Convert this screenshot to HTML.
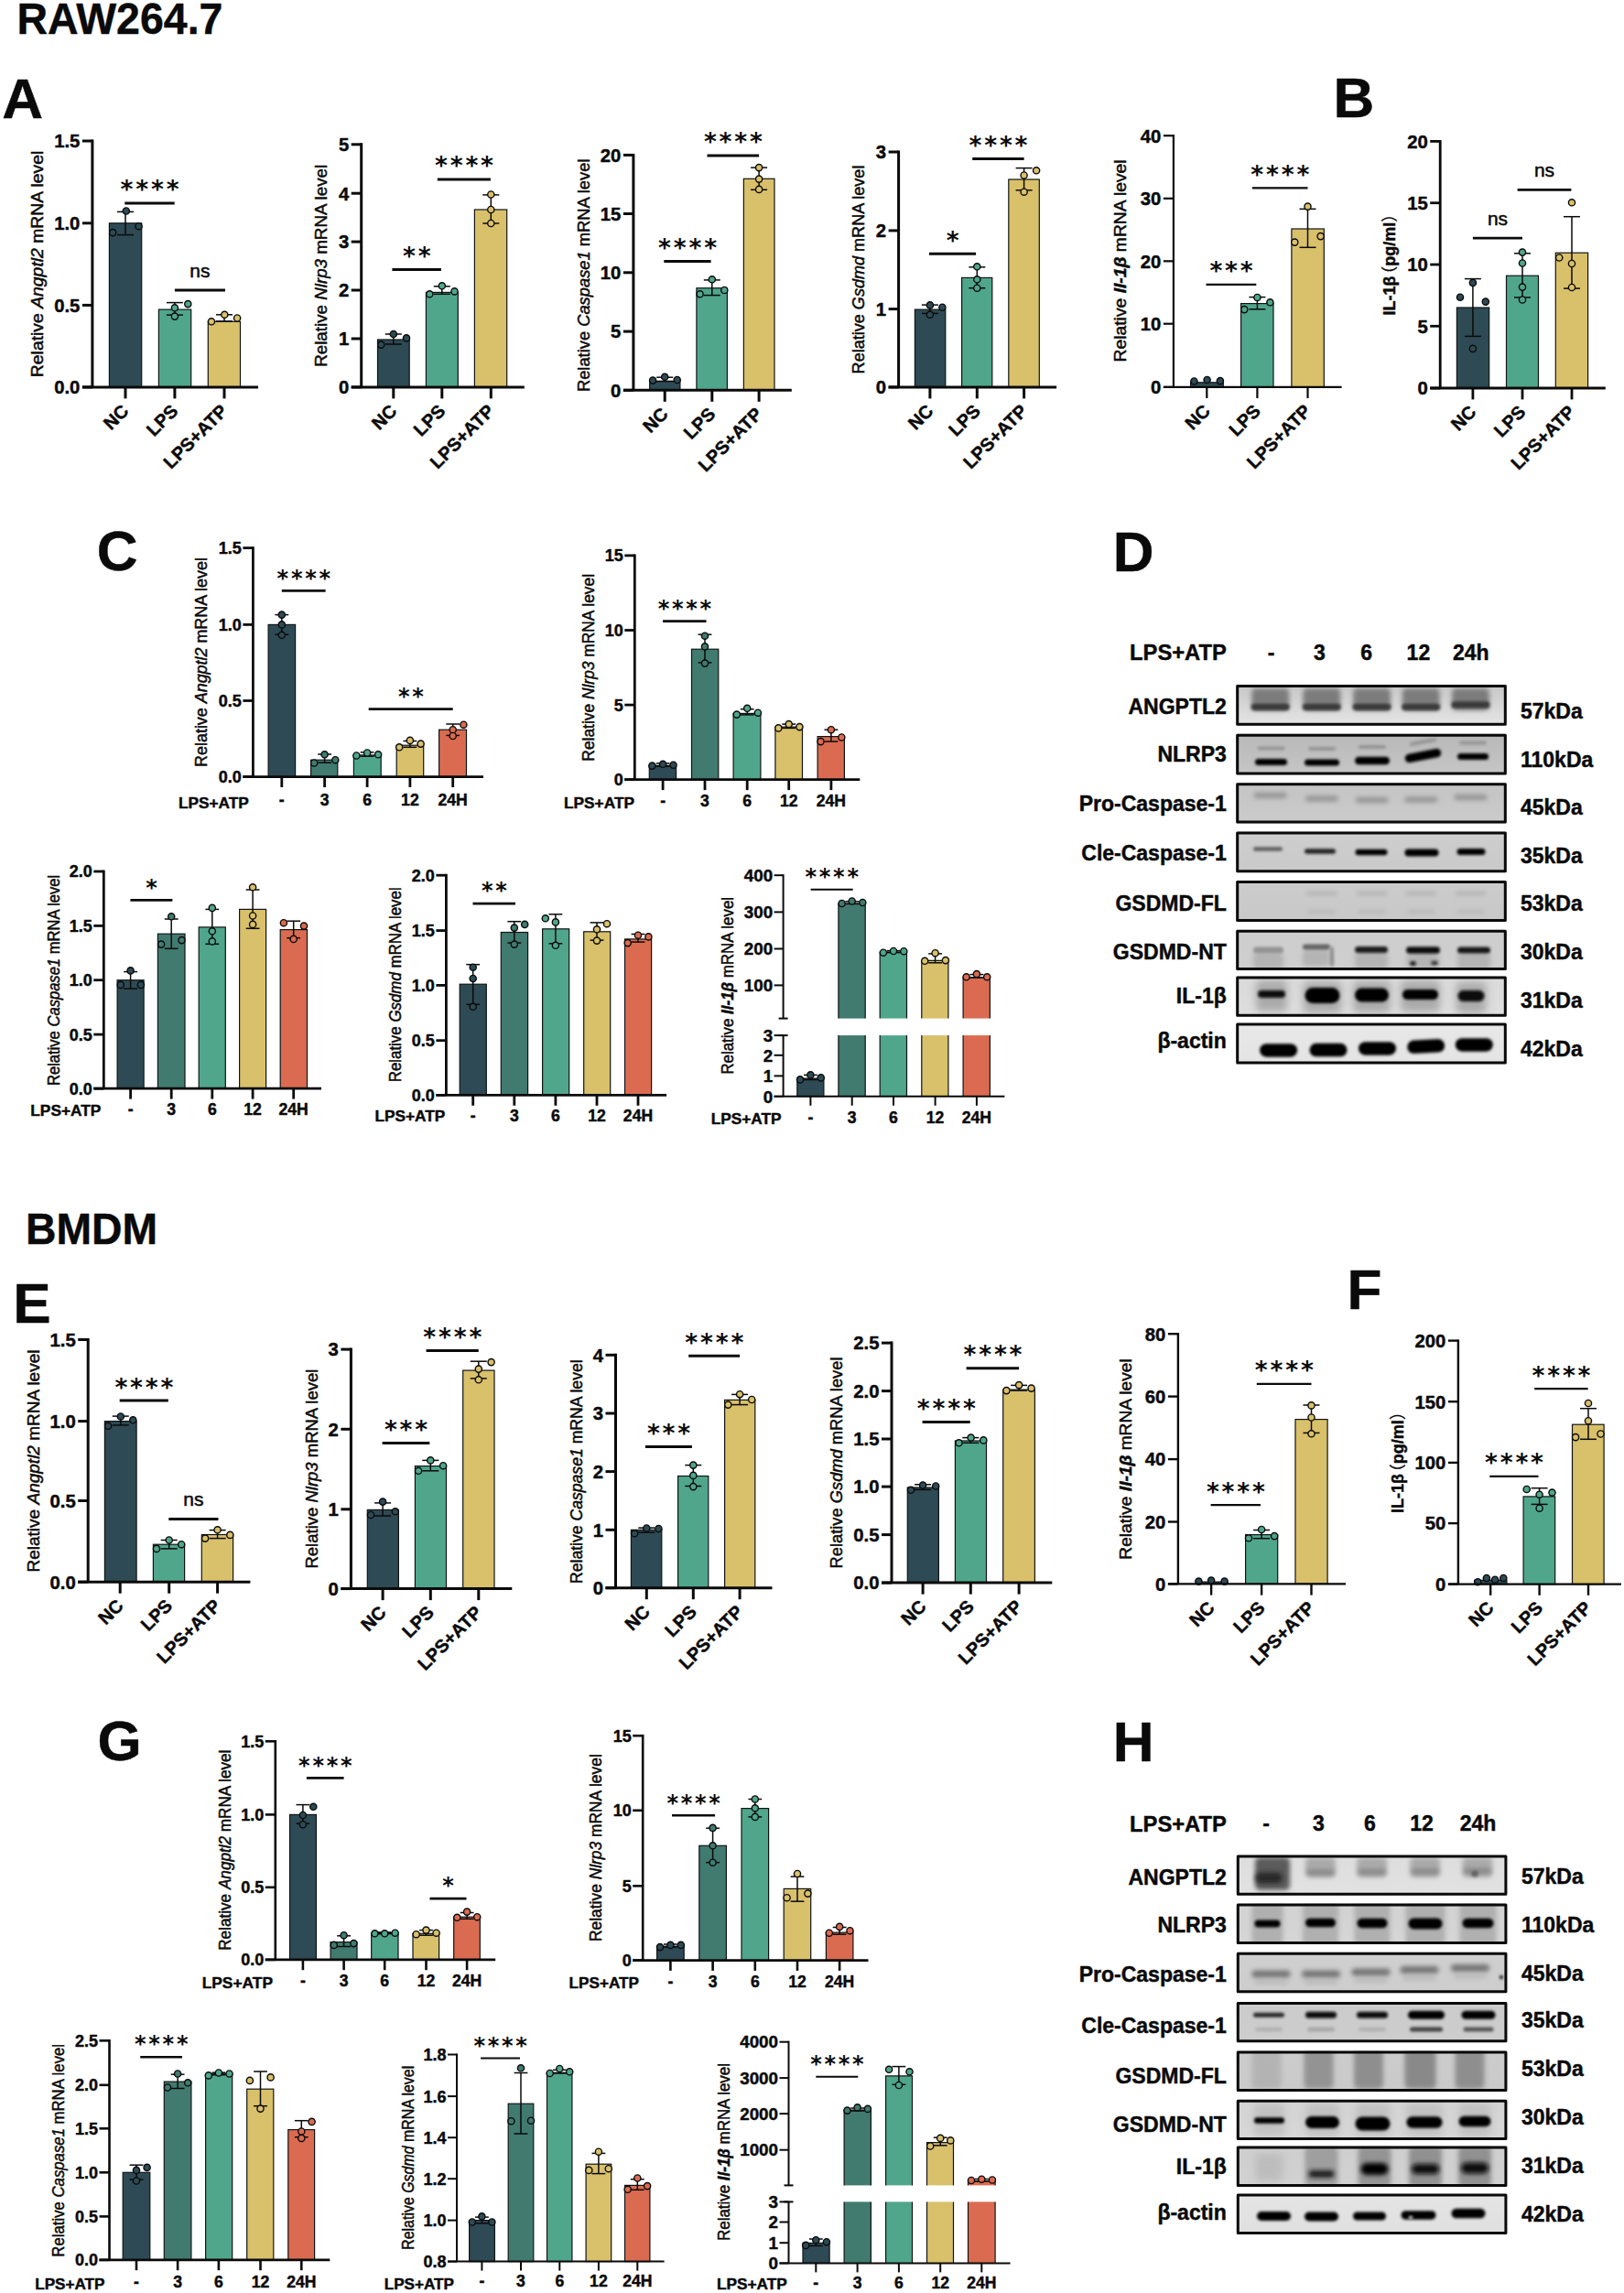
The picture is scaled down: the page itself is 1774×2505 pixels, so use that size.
<!DOCTYPE html>
<html><head><meta charset="utf-8"><title>Figure</title>
<style>
html,body{margin:0;padding:0;background:#fff}
svg{display:block}
text{font-family:"Liberation Sans","Noto Sans CJK SC",sans-serif;fill:#0a0a0a;stroke:#0a0a0a;stroke-width:0.45px;stroke-linejoin:round}
.yl{stroke:#0a0a0a;stroke-width:0.5px}
.st{font-family:"DejaVu Sans",sans-serif;font-weight:bold;stroke-width:0}
.cj{stroke-width:0.2px}
.cj{font-family:"Noto Sans CJK SC","Liberation Sans",sans-serif}
</style></head><body>
<svg width="1774" height="2505" viewBox="0 0 1774 2505">
<rect width="1774" height="2505" fill="#fff"/>
<text x="18.5" y="36.8" font-weight="bold" font-size="49" textLength="225" lengthAdjust="spacingAndGlyphs">RAW264.7</text>
<text x="28" y="1359" font-weight="bold" font-size="48" textLength="144" lengthAdjust="spacingAndGlyphs">BMDM</text>
<text x="2.2" y="128.8" font-weight="bold" font-size="62">A</text>
<text x="1456.5" y="127.9" font-weight="bold" font-size="62">B</text>
<text x="105.7" y="622.5" font-weight="bold" font-size="62">C</text>
<text x="1215.7" y="624" font-weight="bold" font-size="62">D</text>
<text x="14.3" y="1444.9" font-weight="bold" font-size="62">E</text>
<text x="1471.5" y="1429.7" font-weight="bold" font-size="62">F</text>
<text x="106.5" y="1923.3" font-weight="bold" font-size="62">G</text>
<text x="1215.7" y="1924" font-weight="bold" font-size="62">H</text>
<rect x="119.4" y="243.8" width="35.3" height="179.1" fill="#2e4a54" stroke="#101414" stroke-width="1.2"/>
<rect x="173.4" y="338.1" width="35.3" height="84.8" fill="#50a68b" stroke="#101414" stroke-width="1.2"/>
<rect x="227.3" y="351.3" width="35.2" height="71.6" fill="#d9c06a" stroke="#101414" stroke-width="1.2"/>
<line x1="137" y1="231.4" x2="137" y2="256.6" stroke="#0a0a0a" stroke-width="1.5"/>
<line x1="128" y1="231.4" x2="146" y2="231.4" stroke="#0a0a0a" stroke-width="1.5"/>
<line x1="128" y1="256.6" x2="146" y2="256.6" stroke="#0a0a0a" stroke-width="1.5"/>
<line x1="190.9" y1="330.6" x2="190.9" y2="344.1" stroke="#0a0a0a" stroke-width="1.5"/>
<line x1="181.9" y1="330.6" x2="199.9" y2="330.6" stroke="#0a0a0a" stroke-width="1.5"/>
<line x1="181.9" y1="344.1" x2="199.9" y2="344.1" stroke="#0a0a0a" stroke-width="1.5"/>
<line x1="245" y1="343.8" x2="245" y2="350.9" stroke="#0a0a0a" stroke-width="1.5"/>
<line x1="236" y1="343.8" x2="254" y2="343.8" stroke="#0a0a0a" stroke-width="1.5"/>
<line x1="236" y1="350.9" x2="254" y2="350.9" stroke="#0a0a0a" stroke-width="1.5"/>
<circle cx="137.8" cy="230.5" r="3.6" fill="#2e4a54" stroke="#0a0a0a" stroke-width="1.4"/>
<circle cx="151.5" cy="247.2" r="3.6" fill="#2e4a54" stroke="#0a0a0a" stroke-width="1.4"/>
<circle cx="123.2" cy="254.1" r="3.6" fill="#2e4a54" stroke="#0a0a0a" stroke-width="1.4"/>
<circle cx="205.3" cy="332.1" r="3.6" fill="#50a68b" stroke="#0a0a0a" stroke-width="1.4"/>
<circle cx="190.9" cy="336.3" r="3.6" fill="#50a68b" stroke="#0a0a0a" stroke-width="1.4"/>
<circle cx="190.9" cy="345.6" r="3.6" fill="#50a68b" stroke="#0a0a0a" stroke-width="1.4"/>
<circle cx="245.3" cy="343.8" r="3.6" fill="#d9c06a" stroke="#0a0a0a" stroke-width="1.4"/>
<circle cx="259.1" cy="347.5" r="3.6" fill="#d9c06a" stroke="#0a0a0a" stroke-width="1.4"/>
<circle cx="231" cy="351.3" r="3.6" fill="#d9c06a" stroke="#0a0a0a" stroke-width="1.4"/>
<line x1="100.9" y1="152.5" x2="100.9" y2="422.9" stroke="#0a0a0a" stroke-width="3"/>
<line x1="89.9" y1="422.9" x2="282" y2="422.9" stroke="#0a0a0a" stroke-width="3"/>
<line x1="89.9" y1="154" x2="100.9" y2="154" stroke="#0a0a0a" stroke-width="3"/>
<text x="87.4" y="161.3" text-anchor="end" font-weight="bold" font-size="20.3">1.5</text>
<line x1="89.9" y1="243.8" x2="100.9" y2="243.8" stroke="#0a0a0a" stroke-width="3"/>
<text x="87.4" y="251.1" text-anchor="end" font-weight="bold" font-size="20.3">1.0</text>
<line x1="89.9" y1="333.4" x2="100.9" y2="333.4" stroke="#0a0a0a" stroke-width="3"/>
<text x="87.4" y="340.7" text-anchor="end" font-weight="bold" font-size="20.3">0.5</text>
<line x1="89.9" y1="422.9" x2="100.9" y2="422.9" stroke="#0a0a0a" stroke-width="3"/>
<text x="87.4" y="430.2" text-anchor="end" font-weight="bold" font-size="20.3">0.0</text>
<line x1="137" y1="422.9" x2="137" y2="435.4" stroke="#0a0a0a" stroke-width="3"/>
<text transform="translate(141.8,450.2) rotate(-45)" text-anchor="end" font-weight="bold" font-size="20">NC</text>
<line x1="190.9" y1="422.9" x2="190.9" y2="435.4" stroke="#0a0a0a" stroke-width="3"/>
<text transform="translate(195.7,450.2) rotate(-45)" text-anchor="end" font-weight="bold" font-size="20">LPS</text>
<line x1="245" y1="422.9" x2="245" y2="435.4" stroke="#0a0a0a" stroke-width="3"/>
<text transform="translate(249.8,450.2) rotate(-45)" text-anchor="end" font-weight="bold" font-size="20">LPS+ATP</text>
<line x1="136.3" y1="222" x2="190.7" y2="222" stroke="#0a0a0a" stroke-width="3"/>
<text class="st" x="131.6 148.3 165 181.7" y="216.4" font-size="26.5">****</text>
<line x1="190.9" y1="317.1" x2="246" y2="317.1" stroke="#0a0a0a" stroke-width="3"/>
<text x="218.4" y="302.5" text-anchor="middle" class="yl" font-size="21">ns</text>
<text class="yl" transform="translate(46.9,288.4) rotate(-90)" text-anchor="middle" font-size="18.5" textLength="247.5" lengthAdjust="spacingAndGlyphs" xml:space="preserve">Relative <tspan font-style="italic">Angptl2</tspan> mRNA level</text>
<rect x="412.5" y="371" width="34.7" height="51.9" fill="#2e4a54" stroke="#101414" stroke-width="1.2"/>
<rect x="465.4" y="319.4" width="34.9" height="103.5" fill="#50a68b" stroke="#101414" stroke-width="1.2"/>
<rect x="518.4" y="229" width="35.3" height="193.9" fill="#d9c06a" stroke="#101414" stroke-width="1.2"/>
<line x1="429.8" y1="365" x2="429.8" y2="376" stroke="#0a0a0a" stroke-width="1.5"/>
<line x1="420.8" y1="365" x2="438.8" y2="365" stroke="#0a0a0a" stroke-width="1.5"/>
<line x1="420.8" y1="376" x2="438.8" y2="376" stroke="#0a0a0a" stroke-width="1.5"/>
<line x1="482.8" y1="312.8" x2="482.8" y2="321.3" stroke="#0a0a0a" stroke-width="1.5"/>
<line x1="473.8" y1="312.8" x2="491.8" y2="312.8" stroke="#0a0a0a" stroke-width="1.5"/>
<line x1="473.8" y1="321.3" x2="491.8" y2="321.3" stroke="#0a0a0a" stroke-width="1.5"/>
<line x1="536.3" y1="212.9" x2="536.3" y2="244" stroke="#0a0a0a" stroke-width="1.5"/>
<line x1="527.3" y1="212.9" x2="545.3" y2="212.9" stroke="#0a0a0a" stroke-width="1.5"/>
<line x1="527.3" y1="244" x2="545.3" y2="244" stroke="#0a0a0a" stroke-width="1.5"/>
<circle cx="429.8" cy="365" r="3.6" fill="#2e4a54" stroke="#0a0a0a" stroke-width="1.4"/>
<circle cx="444" cy="369.4" r="3.6" fill="#2e4a54" stroke="#0a0a0a" stroke-width="1.4"/>
<circle cx="416.3" cy="376.6" r="3.6" fill="#2e4a54" stroke="#0a0a0a" stroke-width="1.4"/>
<circle cx="482.8" cy="312.3" r="3.6" fill="#50a68b" stroke="#0a0a0a" stroke-width="1.4"/>
<circle cx="496.5" cy="318.4" r="3.6" fill="#50a68b" stroke="#0a0a0a" stroke-width="1.4"/>
<circle cx="469.3" cy="321.3" r="3.6" fill="#50a68b" stroke="#0a0a0a" stroke-width="1.4"/>
<circle cx="536.3" cy="212.5" r="3.6" fill="#d9c06a" stroke="#0a0a0a" stroke-width="1.4"/>
<circle cx="536.3" cy="229" r="3.6" fill="#d9c06a" stroke="#0a0a0a" stroke-width="1.4"/>
<circle cx="536.3" cy="244" r="3.6" fill="#d9c06a" stroke="#0a0a0a" stroke-width="1.4"/>
<line x1="394.7" y1="156.3" x2="394.7" y2="422.9" stroke="#0a0a0a" stroke-width="3"/>
<line x1="383.7" y1="422.9" x2="572.8" y2="422.9" stroke="#0a0a0a" stroke-width="3"/>
<line x1="383.7" y1="157.8" x2="394.7" y2="157.8" stroke="#0a0a0a" stroke-width="3"/>
<text x="381.2" y="165.1" text-anchor="end" font-weight="bold" font-size="20.3">5</text>
<line x1="383.7" y1="211.2" x2="394.7" y2="211.2" stroke="#0a0a0a" stroke-width="3"/>
<text x="381.2" y="218.5" text-anchor="end" font-weight="bold" font-size="20.3">4</text>
<line x1="383.7" y1="264.1" x2="394.7" y2="264.1" stroke="#0a0a0a" stroke-width="3"/>
<text x="381.2" y="271.4" text-anchor="end" font-weight="bold" font-size="20.3">3</text>
<line x1="383.7" y1="317" x2="394.7" y2="317" stroke="#0a0a0a" stroke-width="3"/>
<text x="381.2" y="324.3" text-anchor="end" font-weight="bold" font-size="20.3">2</text>
<line x1="383.7" y1="370" x2="394.7" y2="370" stroke="#0a0a0a" stroke-width="3"/>
<text x="381.2" y="377.3" text-anchor="end" font-weight="bold" font-size="20.3">1</text>
<line x1="383.7" y1="422.9" x2="394.7" y2="422.9" stroke="#0a0a0a" stroke-width="3"/>
<text x="381.2" y="430.2" text-anchor="end" font-weight="bold" font-size="20.3">0</text>
<line x1="429.8" y1="422.9" x2="429.8" y2="435.4" stroke="#0a0a0a" stroke-width="3"/>
<text transform="translate(434.6,450.2) rotate(-45)" text-anchor="end" font-weight="bold" font-size="20">NC</text>
<line x1="482.8" y1="422.9" x2="482.8" y2="435.4" stroke="#0a0a0a" stroke-width="3"/>
<text transform="translate(487.6,450.2) rotate(-45)" text-anchor="end" font-weight="bold" font-size="20">LPS</text>
<line x1="536.3" y1="422.9" x2="536.3" y2="435.4" stroke="#0a0a0a" stroke-width="3"/>
<text transform="translate(541.1,450.2) rotate(-45)" text-anchor="end" font-weight="bold" font-size="20">LPS+ATP</text>
<line x1="428.4" y1="294.6" x2="481.9" y2="294.6" stroke="#0a0a0a" stroke-width="3"/>
<text class="st" x="440 456.7" y="289" font-size="26.5">**</text>
<line x1="477.8" y1="196" x2="535.9" y2="196" stroke="#0a0a0a" stroke-width="3"/>
<text class="st" x="475 491.7 508.4 525.1" y="190.4" font-size="26.5">****</text>
<text class="yl" transform="translate(357.2,290.3) rotate(-90)" text-anchor="middle" font-size="18.5" textLength="221" lengthAdjust="spacingAndGlyphs" xml:space="preserve">Relative <tspan font-style="italic">Nlrp3</tspan> mRNA level</text>
<rect x="709.7" y="416.5" width="33.2" height="9.8" fill="#2e4a54" stroke="#101414" stroke-width="1.2"/>
<rect x="760.9" y="314.7" width="33.5" height="111.6" fill="#50a68b" stroke="#101414" stroke-width="1.2"/>
<rect x="812.4" y="195.3" width="33.6" height="231" fill="#d9c06a" stroke="#101414" stroke-width="1.2"/>
<line x1="726.2" y1="412.2" x2="726.2" y2="416.5" stroke="#0a0a0a" stroke-width="1.5"/>
<line x1="717.2" y1="412.2" x2="735.2" y2="412.2" stroke="#0a0a0a" stroke-width="1.5"/>
<line x1="717.2" y1="416.5" x2="735.2" y2="416.5" stroke="#0a0a0a" stroke-width="1.5"/>
<line x1="777.8" y1="305.9" x2="777.8" y2="322.6" stroke="#0a0a0a" stroke-width="1.5"/>
<line x1="768.8" y1="305.9" x2="786.8" y2="305.9" stroke="#0a0a0a" stroke-width="1.5"/>
<line x1="768.8" y1="322.6" x2="786.8" y2="322.6" stroke="#0a0a0a" stroke-width="1.5"/>
<line x1="829.1" y1="183.1" x2="829.1" y2="207.3" stroke="#0a0a0a" stroke-width="1.5"/>
<line x1="820.1" y1="183.1" x2="838.1" y2="183.1" stroke="#0a0a0a" stroke-width="1.5"/>
<line x1="820.1" y1="207.3" x2="838.1" y2="207.3" stroke="#0a0a0a" stroke-width="1.5"/>
<circle cx="713.1" cy="415.6" r="3.6" fill="#2e4a54" stroke="#0a0a0a" stroke-width="1.4"/>
<circle cx="726.2" cy="411.8" r="3.6" fill="#2e4a54" stroke="#0a0a0a" stroke-width="1.4"/>
<circle cx="739.7" cy="415" r="3.6" fill="#2e4a54" stroke="#0a0a0a" stroke-width="1.4"/>
<circle cx="777.8" cy="305.3" r="3.6" fill="#50a68b" stroke="#0a0a0a" stroke-width="1.4"/>
<circle cx="791.3" cy="317" r="3.6" fill="#50a68b" stroke="#0a0a0a" stroke-width="1.4"/>
<circle cx="764.6" cy="321.3" r="3.6" fill="#50a68b" stroke="#0a0a0a" stroke-width="1.4"/>
<circle cx="829.1" cy="183.1" r="3.6" fill="#d9c06a" stroke="#0a0a0a" stroke-width="1.4"/>
<circle cx="829.1" cy="195.6" r="3.6" fill="#d9c06a" stroke="#0a0a0a" stroke-width="1.4"/>
<circle cx="829.1" cy="206.9" r="3.6" fill="#d9c06a" stroke="#0a0a0a" stroke-width="1.4"/>
<line x1="691.9" y1="167.9" x2="691.9" y2="426.3" stroke="#0a0a0a" stroke-width="3"/>
<line x1="680.9" y1="426.3" x2="864.8" y2="426.3" stroke="#0a0a0a" stroke-width="3"/>
<line x1="680.9" y1="169.4" x2="691.9" y2="169.4" stroke="#0a0a0a" stroke-width="3"/>
<text x="678.4" y="176.7" text-anchor="end" font-weight="bold" font-size="20.3">20</text>
<line x1="680.9" y1="233.5" x2="691.9" y2="233.5" stroke="#0a0a0a" stroke-width="3"/>
<text x="678.4" y="240.8" text-anchor="end" font-weight="bold" font-size="20.3">15</text>
<line x1="680.9" y1="297.8" x2="691.9" y2="297.8" stroke="#0a0a0a" stroke-width="3"/>
<text x="678.4" y="305.1" text-anchor="end" font-weight="bold" font-size="20.3">10</text>
<line x1="680.9" y1="362.1" x2="691.9" y2="362.1" stroke="#0a0a0a" stroke-width="3"/>
<text x="678.4" y="369.4" text-anchor="end" font-weight="bold" font-size="20.3">5</text>
<line x1="680.9" y1="426.3" x2="691.9" y2="426.3" stroke="#0a0a0a" stroke-width="3"/>
<text x="678.4" y="433.6" text-anchor="end" font-weight="bold" font-size="20.3">0</text>
<line x1="726.2" y1="426.3" x2="726.2" y2="438.8" stroke="#0a0a0a" stroke-width="3"/>
<text transform="translate(731,453.6) rotate(-45)" text-anchor="end" font-weight="bold" font-size="20">NC</text>
<line x1="777.8" y1="426.3" x2="777.8" y2="438.8" stroke="#0a0a0a" stroke-width="3"/>
<text transform="translate(782.6,453.6) rotate(-45)" text-anchor="end" font-weight="bold" font-size="20">LPS</text>
<line x1="829.1" y1="426.3" x2="829.1" y2="438.8" stroke="#0a0a0a" stroke-width="3"/>
<text transform="translate(833.9,453.6) rotate(-45)" text-anchor="end" font-weight="bold" font-size="20">LPS+ATP</text>
<line x1="725.3" y1="285.6" x2="776.6" y2="285.6" stroke="#0a0a0a" stroke-width="3"/>
<text class="st" x="719.1 735.8 752.5 769.2" y="280" font-size="26.5">****</text>
<line x1="772.5" y1="169.9" x2="829.1" y2="169.9" stroke="#0a0a0a" stroke-width="3"/>
<text class="st" x="768.9 785.6 802.3 819" y="164.3" font-size="26.5">****</text>
<text class="yl" transform="translate(644.4,300.8) rotate(-90)" text-anchor="middle" font-size="18.5" textLength="254.6" lengthAdjust="spacingAndGlyphs" xml:space="preserve">Relative <tspan font-style="italic">Caspase1</tspan> mRNA level</text>
<rect x="999.4" y="338.1" width="33.4" height="84.8" fill="#2e4a54" stroke="#101414" stroke-width="1.2"/>
<rect x="1050.6" y="303.4" width="33.2" height="119.5" fill="#50a68b" stroke="#101414" stroke-width="1.2"/>
<rect x="1101.8" y="196" width="33.5" height="226.9" fill="#d9c06a" stroke="#101414" stroke-width="1.2"/>
<line x1="1015.9" y1="333.1" x2="1015.9" y2="342.4" stroke="#0a0a0a" stroke-width="1.5"/>
<line x1="1006.9" y1="333.1" x2="1024.9" y2="333.1" stroke="#0a0a0a" stroke-width="1.5"/>
<line x1="1006.9" y1="342.4" x2="1024.9" y2="342.4" stroke="#0a0a0a" stroke-width="1.5"/>
<line x1="1067.3" y1="291.8" x2="1067.3" y2="314.7" stroke="#0a0a0a" stroke-width="1.5"/>
<line x1="1058.3" y1="291.8" x2="1076.3" y2="291.8" stroke="#0a0a0a" stroke-width="1.5"/>
<line x1="1058.3" y1="314.7" x2="1076.3" y2="314.7" stroke="#0a0a0a" stroke-width="1.5"/>
<line x1="1118.6" y1="183.6" x2="1118.6" y2="207.8" stroke="#0a0a0a" stroke-width="1.5"/>
<line x1="1109.6" y1="183.6" x2="1127.6" y2="183.6" stroke="#0a0a0a" stroke-width="1.5"/>
<line x1="1109.6" y1="207.8" x2="1127.6" y2="207.8" stroke="#0a0a0a" stroke-width="1.5"/>
<circle cx="1015.9" cy="333.4" r="3.6" fill="#2e4a54" stroke="#0a0a0a" stroke-width="1.4"/>
<circle cx="1029.4" cy="335.7" r="3.6" fill="#2e4a54" stroke="#0a0a0a" stroke-width="1.4"/>
<circle cx="1015.9" cy="343.8" r="3.6" fill="#2e4a54" stroke="#0a0a0a" stroke-width="1.4"/>
<circle cx="1067.3" cy="291.3" r="3.6" fill="#50a68b" stroke="#0a0a0a" stroke-width="1.4"/>
<circle cx="1067.3" cy="305.3" r="3.6" fill="#50a68b" stroke="#0a0a0a" stroke-width="1.4"/>
<circle cx="1067.3" cy="314.7" r="3.6" fill="#50a68b" stroke="#0a0a0a" stroke-width="1.4"/>
<circle cx="1132.1" cy="186.3" r="3.6" fill="#d9c06a" stroke="#0a0a0a" stroke-width="1.4"/>
<circle cx="1118.6" cy="191.5" r="3.6" fill="#d9c06a" stroke="#0a0a0a" stroke-width="1.4"/>
<circle cx="1118.6" cy="209.7" r="3.6" fill="#d9c06a" stroke="#0a0a0a" stroke-width="1.4"/>
<line x1="981.6" y1="164.5" x2="981.6" y2="422.9" stroke="#0a0a0a" stroke-width="3"/>
<line x1="970.6" y1="422.9" x2="1154.1" y2="422.9" stroke="#0a0a0a" stroke-width="3"/>
<line x1="970.6" y1="166" x2="981.6" y2="166" stroke="#0a0a0a" stroke-width="3"/>
<text x="968.1" y="173.3" text-anchor="end" font-weight="bold" font-size="20.3">3</text>
<line x1="970.6" y1="251.9" x2="981.6" y2="251.9" stroke="#0a0a0a" stroke-width="3"/>
<text x="968.1" y="259.2" text-anchor="end" font-weight="bold" font-size="20.3">2</text>
<line x1="970.6" y1="337.6" x2="981.6" y2="337.6" stroke="#0a0a0a" stroke-width="3"/>
<text x="968.1" y="344.9" text-anchor="end" font-weight="bold" font-size="20.3">1</text>
<line x1="970.6" y1="422.9" x2="981.6" y2="422.9" stroke="#0a0a0a" stroke-width="3"/>
<text x="968.1" y="430.2" text-anchor="end" font-weight="bold" font-size="20.3">0</text>
<line x1="1015.9" y1="422.9" x2="1015.9" y2="435.4" stroke="#0a0a0a" stroke-width="3"/>
<text transform="translate(1020.7,450.2) rotate(-45)" text-anchor="end" font-weight="bold" font-size="20">NC</text>
<line x1="1067.3" y1="422.9" x2="1067.3" y2="435.4" stroke="#0a0a0a" stroke-width="3"/>
<text transform="translate(1072.1,450.2) rotate(-45)" text-anchor="end" font-weight="bold" font-size="20">LPS</text>
<line x1="1118.6" y1="422.9" x2="1118.6" y2="435.4" stroke="#0a0a0a" stroke-width="3"/>
<text transform="translate(1123.4,450.2) rotate(-45)" text-anchor="end" font-weight="bold" font-size="20">LPS+ATP</text>
<line x1="1014.9" y1="277.2" x2="1066.1" y2="277.2" stroke="#0a0a0a" stroke-width="3"/>
<text class="st" x="1033.7" y="271.6" font-size="26.5">*</text>
<line x1="1062.2" y1="173.5" x2="1118.6" y2="173.5" stroke="#0a0a0a" stroke-width="3"/>
<text class="st" x="1058.5 1075.2 1091.9 1108.6" y="167.9" font-size="26.5">****</text>
<text class="yl" transform="translate(944.4,294.5) rotate(-90)" text-anchor="middle" font-size="18.5" textLength="227.8" lengthAdjust="spacingAndGlyphs" xml:space="preserve">Relative <tspan font-style="italic">Gsdmd</tspan> mRNA level</text>
<rect x="1300.6" y="417.8" width="35.7" height="5.1" fill="#2e4a54" stroke="#101414" stroke-width="1.2"/>
<rect x="1355.6" y="331.6" width="35.4" height="91.3" fill="#50a68b" stroke="#101414" stroke-width="1.2"/>
<rect x="1410.9" y="250" width="35.4" height="172.9" fill="#d9c06a" stroke="#101414" stroke-width="1.2"/>
<line x1="1373.4" y1="324.6" x2="1373.4" y2="337.8" stroke="#0a0a0a" stroke-width="1.5"/>
<line x1="1364.4" y1="324.6" x2="1382.4" y2="324.6" stroke="#0a0a0a" stroke-width="1.5"/>
<line x1="1364.4" y1="337.8" x2="1382.4" y2="337.8" stroke="#0a0a0a" stroke-width="1.5"/>
<line x1="1428.5" y1="228.3" x2="1428.5" y2="270.3" stroke="#0a0a0a" stroke-width="1.5"/>
<line x1="1419.5" y1="228.3" x2="1437.5" y2="228.3" stroke="#0a0a0a" stroke-width="1.5"/>
<line x1="1419.5" y1="270.3" x2="1437.5" y2="270.3" stroke="#0a0a0a" stroke-width="1.5"/>
<circle cx="1304.4" cy="416.5" r="3.6" fill="#2e4a54" stroke="#0a0a0a" stroke-width="1.4"/>
<circle cx="1318.6" cy="415" r="3.6" fill="#2e4a54" stroke="#0a0a0a" stroke-width="1.4"/>
<circle cx="1332.9" cy="416.1" r="3.6" fill="#2e4a54" stroke="#0a0a0a" stroke-width="1.4"/>
<circle cx="1373.4" cy="325" r="3.6" fill="#50a68b" stroke="#0a0a0a" stroke-width="1.4"/>
<circle cx="1387.4" cy="330.3" r="3.6" fill="#50a68b" stroke="#0a0a0a" stroke-width="1.4"/>
<circle cx="1359.3" cy="338.1" r="3.6" fill="#50a68b" stroke="#0a0a0a" stroke-width="1.4"/>
<circle cx="1428.5" cy="225.6" r="3.6" fill="#d9c06a" stroke="#0a0a0a" stroke-width="1.4"/>
<circle cx="1442.6" cy="258.1" r="3.6" fill="#d9c06a" stroke="#0a0a0a" stroke-width="1.4"/>
<circle cx="1414.3" cy="264.6" r="3.6" fill="#d9c06a" stroke="#0a0a0a" stroke-width="1.4"/>
<line x1="1281.9" y1="147.1" x2="1281.9" y2="422.9" stroke="#0a0a0a" stroke-width="2.2"/>
<line x1="1270.9" y1="422.9" x2="1465.6" y2="422.9" stroke="#0a0a0a" stroke-width="2.2"/>
<line x1="1270.9" y1="148.2" x2="1281.9" y2="148.2" stroke="#0a0a0a" stroke-width="2.2"/>
<text x="1268.4" y="155.5" text-anchor="end" font-weight="bold" font-size="20.3">40</text>
<line x1="1270.9" y1="216.8" x2="1281.9" y2="216.8" stroke="#0a0a0a" stroke-width="2.2"/>
<text x="1268.4" y="224.1" text-anchor="end" font-weight="bold" font-size="20.3">30</text>
<line x1="1270.9" y1="285.3" x2="1281.9" y2="285.3" stroke="#0a0a0a" stroke-width="2.2"/>
<text x="1268.4" y="292.6" text-anchor="end" font-weight="bold" font-size="20.3">20</text>
<line x1="1270.9" y1="353.7" x2="1281.9" y2="353.7" stroke="#0a0a0a" stroke-width="2.2"/>
<text x="1268.4" y="361" text-anchor="end" font-weight="bold" font-size="20.3">10</text>
<line x1="1270.9" y1="422.9" x2="1281.9" y2="422.9" stroke="#0a0a0a" stroke-width="2.2"/>
<text x="1268.4" y="430.2" text-anchor="end" font-weight="bold" font-size="20.3">0</text>
<line x1="1318.3" y1="422.9" x2="1318.3" y2="435" stroke="#0a0a0a" stroke-width="2.2"/>
<text transform="translate(1323.1,450.2) rotate(-45)" text-anchor="end" font-weight="bold" font-size="20">NC</text>
<line x1="1373.4" y1="422.9" x2="1373.4" y2="435" stroke="#0a0a0a" stroke-width="2.2"/>
<text transform="translate(1378.2,450.2) rotate(-45)" text-anchor="end" font-weight="bold" font-size="20">LPS</text>
<line x1="1428.5" y1="422.9" x2="1428.5" y2="435" stroke="#0a0a0a" stroke-width="2.2"/>
<text transform="translate(1433.3,450.2) rotate(-45)" text-anchor="end" font-weight="bold" font-size="20">LPS+ATP</text>
<line x1="1317.5" y1="310.9" x2="1372.3" y2="310.9" stroke="#0a0a0a" stroke-width="2.2"/>
<text class="st" x="1321.4 1338.1 1354.8" y="305.3" font-size="26.5">***</text>
<line x1="1367.8" y1="205.4" x2="1428.5" y2="205.4" stroke="#0a0a0a" stroke-width="2.2"/>
<text class="st" x="1366.3 1383 1399.7 1416.4" y="199.8" font-size="26.5">****</text>
<text class="yl" transform="translate(1230.3,284.9) rotate(-90)" text-anchor="middle" font-size="18.5" textLength="221" lengthAdjust="spacingAndGlyphs" xml:space="preserve">Relative <tspan font-style="italic" font-weight="bold">Il-1β</tspan> mRNA level</text>
<rect x="1591.4" y="336" width="35.3" height="88" fill="#2e4a54" stroke="#101414" stroke-width="1.2"/>
<rect x="1645.5" y="301.2" width="35" height="122.8" fill="#50a68b" stroke="#101414" stroke-width="1.2"/>
<rect x="1699.3" y="276.2" width="35.3" height="147.8" fill="#d9c06a" stroke="#101414" stroke-width="1.2"/>
<line x1="1608.9" y1="304.6" x2="1608.9" y2="367.4" stroke="#0a0a0a" stroke-width="1.5"/>
<line x1="1599.9" y1="304.6" x2="1617.9" y2="304.6" stroke="#0a0a0a" stroke-width="1.5"/>
<line x1="1599.9" y1="367.4" x2="1617.9" y2="367.4" stroke="#0a0a0a" stroke-width="1.5"/>
<line x1="1663" y1="276.8" x2="1663" y2="324.9" stroke="#0a0a0a" stroke-width="1.5"/>
<line x1="1654" y1="276.8" x2="1672" y2="276.8" stroke="#0a0a0a" stroke-width="1.5"/>
<line x1="1654" y1="324.9" x2="1672" y2="324.9" stroke="#0a0a0a" stroke-width="1.5"/>
<line x1="1717" y1="236.7" x2="1717" y2="315.1" stroke="#0a0a0a" stroke-width="1.5"/>
<line x1="1708" y1="236.7" x2="1726" y2="236.7" stroke="#0a0a0a" stroke-width="1.5"/>
<line x1="1708" y1="315.1" x2="1726" y2="315.1" stroke="#0a0a0a" stroke-width="1.5"/>
<circle cx="1608.9" cy="308.9" r="3.6" fill="#2e4a54" stroke="#0a0a0a" stroke-width="1.4"/>
<circle cx="1595" cy="324.7" r="3.6" fill="#2e4a54" stroke="#0a0a0a" stroke-width="1.4"/>
<circle cx="1622.8" cy="329.6" r="3.6" fill="#2e4a54" stroke="#0a0a0a" stroke-width="1.4"/>
<circle cx="1608.9" cy="380.9" r="3.6" fill="#2e4a54" stroke="#0a0a0a" stroke-width="1.4"/>
<circle cx="1663" cy="275.6" r="3.6" fill="#50a68b" stroke="#0a0a0a" stroke-width="1.4"/>
<circle cx="1663" cy="287.5" r="3.6" fill="#50a68b" stroke="#0a0a0a" stroke-width="1.4"/>
<circle cx="1663" cy="313.6" r="3.6" fill="#50a68b" stroke="#0a0a0a" stroke-width="1.4"/>
<circle cx="1663" cy="327.5" r="3.6" fill="#50a68b" stroke="#0a0a0a" stroke-width="1.4"/>
<circle cx="1717" cy="221.3" r="3.6" fill="#d9c06a" stroke="#0a0a0a" stroke-width="1.4"/>
<circle cx="1703.2" cy="281.5" r="3.6" fill="#d9c06a" stroke="#0a0a0a" stroke-width="1.4"/>
<circle cx="1717" cy="288" r="3.6" fill="#d9c06a" stroke="#0a0a0a" stroke-width="1.4"/>
<circle cx="1717" cy="314" r="3.6" fill="#d9c06a" stroke="#0a0a0a" stroke-width="1.4"/>
<line x1="1573.2" y1="153" x2="1573.2" y2="424" stroke="#0a0a0a" stroke-width="2.8"/>
<line x1="1562.2" y1="424" x2="1753.8" y2="424" stroke="#0a0a0a" stroke-width="2.8"/>
<line x1="1562.2" y1="154.4" x2="1573.2" y2="154.4" stroke="#0a0a0a" stroke-width="2.8"/>
<text x="1559.7" y="161.7" text-anchor="end" font-weight="bold" font-size="20.3">20</text>
<line x1="1562.2" y1="221.7" x2="1573.2" y2="221.7" stroke="#0a0a0a" stroke-width="2.8"/>
<text x="1559.7" y="229" text-anchor="end" font-weight="bold" font-size="20.3">15</text>
<line x1="1562.2" y1="289" x2="1573.2" y2="289" stroke="#0a0a0a" stroke-width="2.8"/>
<text x="1559.7" y="296.3" text-anchor="end" font-weight="bold" font-size="20.3">10</text>
<line x1="1562.2" y1="356.3" x2="1573.2" y2="356.3" stroke="#0a0a0a" stroke-width="2.8"/>
<text x="1559.7" y="363.6" text-anchor="end" font-weight="bold" font-size="20.3">5</text>
<line x1="1562.2" y1="424" x2="1573.2" y2="424" stroke="#0a0a0a" stroke-width="2.8"/>
<text x="1559.7" y="431.3" text-anchor="end" font-weight="bold" font-size="20.3">0</text>
<line x1="1608.9" y1="424" x2="1608.9" y2="436.4" stroke="#0a0a0a" stroke-width="2.8"/>
<text transform="translate(1613.7,451.3) rotate(-45)" text-anchor="end" font-weight="bold" font-size="20">NC</text>
<line x1="1663" y1="424" x2="1663" y2="436.4" stroke="#0a0a0a" stroke-width="2.8"/>
<text transform="translate(1667.8,451.3) rotate(-45)" text-anchor="end" font-weight="bold" font-size="20">LPS</text>
<line x1="1717" y1="424" x2="1717" y2="436.4" stroke="#0a0a0a" stroke-width="2.8"/>
<text transform="translate(1721.8,451.3) rotate(-45)" text-anchor="end" font-weight="bold" font-size="20">LPS+ATP</text>
<line x1="1608.9" y1="260.2" x2="1663" y2="260.2" stroke="#0a0a0a" stroke-width="2.8"/>
<text x="1636" y="245.6" text-anchor="middle" class="yl" font-size="21">ns</text>
<line x1="1657.6" y1="207.4" x2="1716.4" y2="207.4" stroke="#0a0a0a" stroke-width="2.8"/>
<text x="1687" y="192.8" text-anchor="middle" class="yl" font-size="21">ns</text>
<text transform="translate(1523.7,344.6) rotate(-90)" font-size="18" font-weight="bold">IL-1β<tspan class="cj" font-weight="normal" dx="-7.2">（</tspan>pg/ml<tspan class="cj" font-weight="normal">）</tspan></text>
<rect x="293.1" y="682.4" width="29.5" height="166.2" fill="#2e4a54" stroke="#101414" stroke-width="1.2"/>
<rect x="339.6" y="830.2" width="29.2" height="18.4" fill="#417a6f" stroke="#101414" stroke-width="1.2"/>
<rect x="386.4" y="824.9" width="29.8" height="23.7" fill="#50a68b" stroke="#101414" stroke-width="1.2"/>
<rect x="433.2" y="814.2" width="29.5" height="34.4" fill="#d9c06a" stroke="#101414" stroke-width="1.2"/>
<rect x="479.6" y="797.2" width="29.9" height="51.4" fill="#da6b51" stroke="#101414" stroke-width="1.2"/>
<line x1="307.8" y1="671.6" x2="307.8" y2="693.2" stroke="#0a0a0a" stroke-width="1.5"/>
<line x1="300.4" y1="671.6" x2="315.2" y2="671.6" stroke="#0a0a0a" stroke-width="1.5"/>
<line x1="300.4" y1="693.2" x2="315.2" y2="693.2" stroke="#0a0a0a" stroke-width="1.5"/>
<line x1="354.6" y1="824" x2="354.6" y2="833.2" stroke="#0a0a0a" stroke-width="1.5"/>
<line x1="347.2" y1="824" x2="362" y2="824" stroke="#0a0a0a" stroke-width="1.5"/>
<line x1="347.2" y1="833.2" x2="362" y2="833.2" stroke="#0a0a0a" stroke-width="1.5"/>
<line x1="401.1" y1="821.8" x2="401.1" y2="826.2" stroke="#0a0a0a" stroke-width="1.5"/>
<line x1="393.7" y1="821.8" x2="408.5" y2="821.8" stroke="#0a0a0a" stroke-width="1.5"/>
<line x1="393.7" y1="826.2" x2="408.5" y2="826.2" stroke="#0a0a0a" stroke-width="1.5"/>
<line x1="447.9" y1="809.5" x2="447.9" y2="816.3" stroke="#0a0a0a" stroke-width="1.5"/>
<line x1="440.5" y1="809.5" x2="455.3" y2="809.5" stroke="#0a0a0a" stroke-width="1.5"/>
<line x1="440.5" y1="816.3" x2="455.3" y2="816.3" stroke="#0a0a0a" stroke-width="1.5"/>
<line x1="494.7" y1="791" x2="494.7" y2="803.4" stroke="#0a0a0a" stroke-width="1.5"/>
<line x1="487.3" y1="791" x2="502.1" y2="791" stroke="#0a0a0a" stroke-width="1.5"/>
<line x1="487.3" y1="803.4" x2="502.1" y2="803.4" stroke="#0a0a0a" stroke-width="1.5"/>
<circle cx="307.8" cy="671.6" r="3.6" fill="#2e4a54" stroke="#0a0a0a" stroke-width="1.4"/>
<circle cx="307.8" cy="682.4" r="3.6" fill="#2e4a54" stroke="#0a0a0a" stroke-width="1.4"/>
<circle cx="307.8" cy="693.8" r="3.6" fill="#2e4a54" stroke="#0a0a0a" stroke-width="1.4"/>
<circle cx="354.6" cy="824.3" r="3.6" fill="#417a6f" stroke="#0a0a0a" stroke-width="1.4"/>
<circle cx="366.3" cy="830.2" r="3.6" fill="#417a6f" stroke="#0a0a0a" stroke-width="1.4"/>
<circle cx="343.2" cy="833.5" r="3.6" fill="#417a6f" stroke="#0a0a0a" stroke-width="1.4"/>
<circle cx="401.1" cy="822.5" r="3.6" fill="#50a68b" stroke="#0a0a0a" stroke-width="1.4"/>
<circle cx="413.1" cy="824.3" r="3.6" fill="#50a68b" stroke="#0a0a0a" stroke-width="1.4"/>
<circle cx="389.4" cy="825.5" r="3.6" fill="#50a68b" stroke="#0a0a0a" stroke-width="1.4"/>
<circle cx="447.9" cy="808.9" r="3.6" fill="#d9c06a" stroke="#0a0a0a" stroke-width="1.4"/>
<circle cx="459.6" cy="812.6" r="3.6" fill="#d9c06a" stroke="#0a0a0a" stroke-width="1.4"/>
<circle cx="436.2" cy="816.3" r="3.6" fill="#d9c06a" stroke="#0a0a0a" stroke-width="1.4"/>
<circle cx="506.4" cy="791.7" r="3.6" fill="#da6b51" stroke="#0a0a0a" stroke-width="1.4"/>
<circle cx="494.7" cy="797.2" r="3.6" fill="#da6b51" stroke="#0a0a0a" stroke-width="1.4"/>
<circle cx="494.7" cy="804" r="3.6" fill="#da6b51" stroke="#0a0a0a" stroke-width="1.4"/>
<line x1="276.4" y1="597.2" x2="276.4" y2="848.6" stroke="#0a0a0a" stroke-width="2.8"/>
<line x1="265.4" y1="848.6" x2="528" y2="848.6" stroke="#0a0a0a" stroke-width="2.8"/>
<line x1="265.4" y1="598.6" x2="276.4" y2="598.6" stroke="#0a0a0a" stroke-width="2.8"/>
<text x="263.9" y="605" text-anchor="end" font-weight="bold" font-size="18">1.5</text>
<line x1="265.4" y1="682.4" x2="276.4" y2="682.4" stroke="#0a0a0a" stroke-width="2.8"/>
<text x="263.9" y="688.8" text-anchor="end" font-weight="bold" font-size="18">1.0</text>
<line x1="265.4" y1="765.5" x2="276.4" y2="765.5" stroke="#0a0a0a" stroke-width="2.8"/>
<text x="263.9" y="771.9" text-anchor="end" font-weight="bold" font-size="18">0.5</text>
<line x1="265.4" y1="848.6" x2="276.4" y2="848.6" stroke="#0a0a0a" stroke-width="2.8"/>
<text x="263.9" y="855" text-anchor="end" font-weight="bold" font-size="18">0.0</text>
<line x1="307.8" y1="848.6" x2="307.8" y2="860" stroke="#0a0a0a" stroke-width="2.8"/>
<text x="307.8" y="879.5" text-anchor="middle" font-weight="bold" font-size="17.6">-</text>
<line x1="354.6" y1="848.6" x2="354.6" y2="860" stroke="#0a0a0a" stroke-width="2.8"/>
<text x="354.6" y="879.5" text-anchor="middle" font-weight="bold" font-size="17.6">3</text>
<line x1="401.1" y1="848.6" x2="401.1" y2="860" stroke="#0a0a0a" stroke-width="2.8"/>
<text x="401.1" y="879.5" text-anchor="middle" font-weight="bold" font-size="17.6">6</text>
<line x1="447.9" y1="848.6" x2="447.9" y2="860" stroke="#0a0a0a" stroke-width="2.8"/>
<text x="447.9" y="879.5" text-anchor="middle" font-weight="bold" font-size="17.6">12</text>
<line x1="494.7" y1="848.6" x2="494.7" y2="860" stroke="#0a0a0a" stroke-width="2.8"/>
<text x="494.7" y="879.5" text-anchor="middle" font-weight="bold" font-size="17.6">24H</text>
<text x="194.9" y="882.5" font-weight="bold" font-size="17.3" textLength="76.9" lengthAdjust="spacingAndGlyphs">LPS+ATP</text>
<line x1="307.8" y1="645.4" x2="355.6" y2="645.4" stroke="#0a0a0a" stroke-width="2.8"/>
<text class="st" x="302.6 317.9 333.2 348.5" y="639.6" font-size="24">****</text>
<line x1="402.7" y1="774.7" x2="494.7" y2="774.7" stroke="#0a0a0a" stroke-width="2.8"/>
<text class="st" x="434.9 450.2" y="768.9" font-size="24">**</text>
<text class="yl" transform="translate(226.3,723.5) rotate(-90)" text-anchor="middle" font-size="17.6" textLength="228.8" lengthAdjust="spacingAndGlyphs" xml:space="preserve">Relative <tspan font-style="italic">Angptl2</tspan> mRNA level</text>
<rect x="709.3" y="836.3" width="29.3" height="15.4" fill="#2e4a54" stroke="#101414" stroke-width="1.2"/>
<rect x="755.5" y="709.2" width="29.3" height="142.5" fill="#417a6f" stroke="#101414" stroke-width="1.2"/>
<rect x="801.1" y="779.4" width="29.8" height="72.3" fill="#50a68b" stroke="#101414" stroke-width="1.2"/>
<rect x="846.9" y="794.1" width="29.6" height="57.6" fill="#d9c06a" stroke="#101414" stroke-width="1.2"/>
<rect x="893.1" y="804.6" width="29.3" height="47.1" fill="#da6b51" stroke="#101414" stroke-width="1.2"/>
<line x1="724.1" y1="833.9" x2="724.1" y2="837.2" stroke="#0a0a0a" stroke-width="1.5"/>
<line x1="716.7" y1="833.9" x2="731.5" y2="833.9" stroke="#0a0a0a" stroke-width="1.5"/>
<line x1="716.7" y1="837.2" x2="731.5" y2="837.2" stroke="#0a0a0a" stroke-width="1.5"/>
<line x1="770" y1="693.2" x2="770" y2="723.9" stroke="#0a0a0a" stroke-width="1.5"/>
<line x1="762.6" y1="693.2" x2="777.4" y2="693.2" stroke="#0a0a0a" stroke-width="1.5"/>
<line x1="762.6" y1="723.9" x2="777.4" y2="723.9" stroke="#0a0a0a" stroke-width="1.5"/>
<line x1="816.2" y1="774.7" x2="816.2" y2="780.9" stroke="#0a0a0a" stroke-width="1.5"/>
<line x1="808.8" y1="774.7" x2="823.6" y2="774.7" stroke="#0a0a0a" stroke-width="1.5"/>
<line x1="808.8" y1="780.9" x2="823.6" y2="780.9" stroke="#0a0a0a" stroke-width="1.5"/>
<line x1="861.7" y1="791.1" x2="861.7" y2="795.4" stroke="#0a0a0a" stroke-width="1.5"/>
<line x1="854.3" y1="791.1" x2="869.1" y2="791.1" stroke="#0a0a0a" stroke-width="1.5"/>
<line x1="854.3" y1="795.4" x2="869.1" y2="795.4" stroke="#0a0a0a" stroke-width="1.5"/>
<line x1="907.9" y1="797.2" x2="907.9" y2="810.1" stroke="#0a0a0a" stroke-width="1.5"/>
<line x1="900.5" y1="797.2" x2="915.3" y2="797.2" stroke="#0a0a0a" stroke-width="1.5"/>
<line x1="900.5" y1="810.1" x2="915.3" y2="810.1" stroke="#0a0a0a" stroke-width="1.5"/>
<circle cx="712.4" cy="836.6" r="3.6" fill="#2e4a54" stroke="#0a0a0a" stroke-width="1.4"/>
<circle cx="724.1" cy="834.8" r="3.6" fill="#2e4a54" stroke="#0a0a0a" stroke-width="1.4"/>
<circle cx="735.5" cy="835.7" r="3.6" fill="#2e4a54" stroke="#0a0a0a" stroke-width="1.4"/>
<circle cx="770" cy="694.7" r="3.6" fill="#417a6f" stroke="#0a0a0a" stroke-width="1.4"/>
<circle cx="770" cy="706.4" r="3.6" fill="#417a6f" stroke="#0a0a0a" stroke-width="1.4"/>
<circle cx="770" cy="724.6" r="3.6" fill="#417a6f" stroke="#0a0a0a" stroke-width="1.4"/>
<circle cx="816.2" cy="773.8" r="3.6" fill="#50a68b" stroke="#0a0a0a" stroke-width="1.4"/>
<circle cx="827.9" cy="778.7" r="3.6" fill="#50a68b" stroke="#0a0a0a" stroke-width="1.4"/>
<circle cx="804.8" cy="780.6" r="3.6" fill="#50a68b" stroke="#0a0a0a" stroke-width="1.4"/>
<circle cx="861.7" cy="791.1" r="3.6" fill="#d9c06a" stroke="#0a0a0a" stroke-width="1.4"/>
<circle cx="873.4" cy="794.1" r="3.6" fill="#d9c06a" stroke="#0a0a0a" stroke-width="1.4"/>
<circle cx="850.3" cy="795.4" r="3.6" fill="#d9c06a" stroke="#0a0a0a" stroke-width="1.4"/>
<circle cx="907.9" cy="797.2" r="3.6" fill="#da6b51" stroke="#0a0a0a" stroke-width="1.4"/>
<circle cx="919.3" cy="805.5" r="3.6" fill="#da6b51" stroke="#0a0a0a" stroke-width="1.4"/>
<circle cx="896.5" cy="810.1" r="3.6" fill="#da6b51" stroke="#0a0a0a" stroke-width="1.4"/>
<line x1="693.3" y1="605.5" x2="693.3" y2="851.7" stroke="#0a0a0a" stroke-width="2.8"/>
<line x1="682.3" y1="851.7" x2="939.3" y2="851.7" stroke="#0a0a0a" stroke-width="2.8"/>
<line x1="682.3" y1="606.9" x2="693.3" y2="606.9" stroke="#0a0a0a" stroke-width="2.8"/>
<text x="680.8" y="613.3" text-anchor="end" font-weight="bold" font-size="18">15</text>
<line x1="682.3" y1="688.5" x2="693.3" y2="688.5" stroke="#0a0a0a" stroke-width="2.8"/>
<text x="680.8" y="694.9" text-anchor="end" font-weight="bold" font-size="18">10</text>
<line x1="682.3" y1="770.1" x2="693.3" y2="770.1" stroke="#0a0a0a" stroke-width="2.8"/>
<text x="680.8" y="776.5" text-anchor="end" font-weight="bold" font-size="18">5</text>
<line x1="682.3" y1="851.7" x2="693.3" y2="851.7" stroke="#0a0a0a" stroke-width="2.8"/>
<text x="680.8" y="858.1" text-anchor="end" font-weight="bold" font-size="18">0</text>
<line x1="724.1" y1="851.7" x2="724.1" y2="863.1" stroke="#0a0a0a" stroke-width="2.8"/>
<text x="724.1" y="880.5" text-anchor="middle" font-weight="bold" font-size="17.6">-</text>
<line x1="770" y1="851.7" x2="770" y2="863.1" stroke="#0a0a0a" stroke-width="2.8"/>
<text x="770" y="880.5" text-anchor="middle" font-weight="bold" font-size="17.6">3</text>
<line x1="816.2" y1="851.7" x2="816.2" y2="863.1" stroke="#0a0a0a" stroke-width="2.8"/>
<text x="816.2" y="880.5" text-anchor="middle" font-weight="bold" font-size="17.6">6</text>
<line x1="861.7" y1="851.7" x2="861.7" y2="863.1" stroke="#0a0a0a" stroke-width="2.8"/>
<text x="861.7" y="880.5" text-anchor="middle" font-weight="bold" font-size="17.6">12</text>
<line x1="907.9" y1="851.7" x2="907.9" y2="863.1" stroke="#0a0a0a" stroke-width="2.8"/>
<text x="907.9" y="880.5" text-anchor="middle" font-weight="bold" font-size="17.6">24H</text>
<text x="616" y="882.5" font-weight="bold" font-size="17.3" textLength="77" lengthAdjust="spacingAndGlyphs">LPS+ATP</text>
<line x1="724.1" y1="678.7" x2="771.5" y2="678.7" stroke="#0a0a0a" stroke-width="2.8"/>
<text class="st" x="718.7 734 749.3 764.6" y="672.9" font-size="24">****</text>
<text class="yl" transform="translate(648.7,729.3) rotate(-90)" text-anchor="middle" font-size="17.6" textLength="204.7" lengthAdjust="spacingAndGlyphs" xml:space="preserve">Relative <tspan font-style="italic">Nlrp3</tspan> mRNA level</text>
<rect x="128.1" y="1070.7" width="29" height="118.5" fill="#2e4a54" stroke="#101414" stroke-width="1.2"/>
<rect x="172.4" y="1020.2" width="29.6" height="169" fill="#417a6f" stroke="#101414" stroke-width="1.2"/>
<rect x="217.2" y="1012.9" width="29.1" height="176.3" fill="#50a68b" stroke="#101414" stroke-width="1.2"/>
<rect x="261.6" y="993.4" width="29" height="195.8" fill="#d9c06a" stroke="#101414" stroke-width="1.2"/>
<rect x="306.2" y="1015.6" width="29.3" height="173.6" fill="#da6b51" stroke="#101414" stroke-width="1.2"/>
<line x1="142.6" y1="1061.6" x2="142.6" y2="1080.1" stroke="#0a0a0a" stroke-width="1.5"/>
<line x1="135.2" y1="1061.6" x2="150" y2="1061.6" stroke="#0a0a0a" stroke-width="1.5"/>
<line x1="135.2" y1="1080.1" x2="150" y2="1080.1" stroke="#0a0a0a" stroke-width="1.5"/>
<line x1="187.2" y1="1004" x2="187.2" y2="1036.3" stroke="#0a0a0a" stroke-width="1.5"/>
<line x1="179.8" y1="1004" x2="194.6" y2="1004" stroke="#0a0a0a" stroke-width="1.5"/>
<line x1="179.8" y1="1036.3" x2="194.6" y2="1036.3" stroke="#0a0a0a" stroke-width="1.5"/>
<line x1="231.8" y1="993.4" x2="231.8" y2="1031.3" stroke="#0a0a0a" stroke-width="1.5"/>
<line x1="224.4" y1="993.4" x2="239.2" y2="993.4" stroke="#0a0a0a" stroke-width="1.5"/>
<line x1="224.4" y1="1031.3" x2="239.2" y2="1031.3" stroke="#0a0a0a" stroke-width="1.5"/>
<line x1="276.1" y1="972" x2="276.1" y2="1014.3" stroke="#0a0a0a" stroke-width="1.5"/>
<line x1="268.7" y1="972" x2="283.5" y2="972" stroke="#0a0a0a" stroke-width="1.5"/>
<line x1="268.7" y1="1014.3" x2="283.5" y2="1014.3" stroke="#0a0a0a" stroke-width="1.5"/>
<line x1="320.7" y1="1006.2" x2="320.7" y2="1024.7" stroke="#0a0a0a" stroke-width="1.5"/>
<line x1="313.3" y1="1006.2" x2="328.1" y2="1006.2" stroke="#0a0a0a" stroke-width="1.5"/>
<line x1="313.3" y1="1024.7" x2="328.1" y2="1024.7" stroke="#0a0a0a" stroke-width="1.5"/>
<circle cx="142.6" cy="1060.4" r="3.6" fill="#2e4a54" stroke="#0a0a0a" stroke-width="1.4"/>
<circle cx="131.8" cy="1075.9" r="3.6" fill="#2e4a54" stroke="#0a0a0a" stroke-width="1.4"/>
<circle cx="153.9" cy="1075.9" r="3.6" fill="#2e4a54" stroke="#0a0a0a" stroke-width="1.4"/>
<circle cx="187.2" cy="1001.3" r="3.6" fill="#417a6f" stroke="#0a0a0a" stroke-width="1.4"/>
<circle cx="198.5" cy="1027.1" r="3.6" fill="#417a6f" stroke="#0a0a0a" stroke-width="1.4"/>
<circle cx="176.1" cy="1031.6" r="3.6" fill="#417a6f" stroke="#0a0a0a" stroke-width="1.4"/>
<circle cx="231.8" cy="991.9" r="3.6" fill="#50a68b" stroke="#0a0a0a" stroke-width="1.4"/>
<circle cx="231.8" cy="1017.3" r="3.6" fill="#50a68b" stroke="#0a0a0a" stroke-width="1.4"/>
<circle cx="231.8" cy="1028.4" r="3.6" fill="#50a68b" stroke="#0a0a0a" stroke-width="1.4"/>
<circle cx="276.1" cy="969.3" r="3.6" fill="#d9c06a" stroke="#0a0a0a" stroke-width="1.4"/>
<circle cx="276.1" cy="1000.5" r="3.6" fill="#d9c06a" stroke="#0a0a0a" stroke-width="1.4"/>
<circle cx="276.1" cy="1009.9" r="3.6" fill="#d9c06a" stroke="#0a0a0a" stroke-width="1.4"/>
<circle cx="309.9" cy="1008.2" r="3.6" fill="#da6b51" stroke="#0a0a0a" stroke-width="1.4"/>
<circle cx="332" cy="1011.6" r="3.6" fill="#da6b51" stroke="#0a0a0a" stroke-width="1.4"/>
<circle cx="320.7" cy="1025.9" r="3.6" fill="#da6b51" stroke="#0a0a0a" stroke-width="1.4"/>
<line x1="113.3" y1="950.6" x2="113.3" y2="1189.2" stroke="#0a0a0a" stroke-width="2.8"/>
<line x1="102.3" y1="1189.2" x2="351" y2="1189.2" stroke="#0a0a0a" stroke-width="2.8"/>
<line x1="102.3" y1="952" x2="113.3" y2="952" stroke="#0a0a0a" stroke-width="2.8"/>
<text x="100.8" y="958.4" text-anchor="end" font-weight="bold" font-size="18">2.0</text>
<line x1="102.3" y1="1011.4" x2="113.3" y2="1011.4" stroke="#0a0a0a" stroke-width="2.8"/>
<text x="100.8" y="1017.8" text-anchor="end" font-weight="bold" font-size="18">1.5</text>
<line x1="102.3" y1="1070.7" x2="113.3" y2="1070.7" stroke="#0a0a0a" stroke-width="2.8"/>
<text x="100.8" y="1077.1" text-anchor="end" font-weight="bold" font-size="18">1.0</text>
<line x1="102.3" y1="1130.1" x2="113.3" y2="1130.1" stroke="#0a0a0a" stroke-width="2.8"/>
<text x="100.8" y="1136.5" text-anchor="end" font-weight="bold" font-size="18">0.5</text>
<line x1="102.3" y1="1189.2" x2="113.3" y2="1189.2" stroke="#0a0a0a" stroke-width="2.8"/>
<text x="100.8" y="1195.6" text-anchor="end" font-weight="bold" font-size="18">0.0</text>
<line x1="142.6" y1="1189.2" x2="142.6" y2="1200.6" stroke="#0a0a0a" stroke-width="2.8"/>
<text x="142.6" y="1217.5" text-anchor="middle" font-weight="bold" font-size="17.6">-</text>
<line x1="187.2" y1="1189.2" x2="187.2" y2="1200.6" stroke="#0a0a0a" stroke-width="2.8"/>
<text x="187.2" y="1217.5" text-anchor="middle" font-weight="bold" font-size="17.6">3</text>
<line x1="231.8" y1="1189.2" x2="231.8" y2="1200.6" stroke="#0a0a0a" stroke-width="2.8"/>
<text x="231.8" y="1217.5" text-anchor="middle" font-weight="bold" font-size="17.6">6</text>
<line x1="276.1" y1="1189.2" x2="276.1" y2="1200.6" stroke="#0a0a0a" stroke-width="2.8"/>
<text x="276.1" y="1217.5" text-anchor="middle" font-weight="bold" font-size="17.6">12</text>
<line x1="320.7" y1="1189.2" x2="320.7" y2="1200.6" stroke="#0a0a0a" stroke-width="2.8"/>
<text x="320.7" y="1217.5" text-anchor="middle" font-weight="bold" font-size="17.6">24H</text>
<text x="33.3" y="1218.8" font-weight="bold" font-size="17.3" textLength="77" lengthAdjust="spacingAndGlyphs">LPS+ATP</text>
<line x1="142.4" y1="983.3" x2="188.4" y2="983.3" stroke="#0a0a0a" stroke-width="2.8"/>
<text class="st" x="159.2" y="977.5" font-size="24">*</text>
<text class="yl" transform="translate(64.5,1070.9) rotate(-90)" text-anchor="middle" font-size="17.6" textLength="230.3" lengthAdjust="spacingAndGlyphs" xml:space="preserve">Relative <tspan font-style="italic">Caspase1</tspan> mRNA level</text>
<rect x="502.2" y="1075.2" width="29.1" height="121.2" fill="#2e4a54" stroke="#101414" stroke-width="1.2"/>
<rect x="547.3" y="1018.5" width="29.3" height="177.9" fill="#417a6f" stroke="#101414" stroke-width="1.2"/>
<rect x="592.6" y="1014.8" width="29.1" height="181.6" fill="#50a68b" stroke="#101414" stroke-width="1.2"/>
<rect x="637.7" y="1017.8" width="29" height="178.6" fill="#d9c06a" stroke="#101414" stroke-width="1.2"/>
<rect x="682.5" y="1025.9" width="29.1" height="170.5" fill="#da6b51" stroke="#101414" stroke-width="1.2"/>
<line x1="516.7" y1="1053.7" x2="516.7" y2="1097.3" stroke="#0a0a0a" stroke-width="1.5"/>
<line x1="509.3" y1="1053.7" x2="524.1" y2="1053.7" stroke="#0a0a0a" stroke-width="1.5"/>
<line x1="509.3" y1="1097.3" x2="524.1" y2="1097.3" stroke="#0a0a0a" stroke-width="1.5"/>
<line x1="561.8" y1="1006.7" x2="561.8" y2="1030.1" stroke="#0a0a0a" stroke-width="1.5"/>
<line x1="554.4" y1="1006.7" x2="569.2" y2="1006.7" stroke="#0a0a0a" stroke-width="1.5"/>
<line x1="554.4" y1="1030.1" x2="569.2" y2="1030.1" stroke="#0a0a0a" stroke-width="1.5"/>
<line x1="606.9" y1="998.8" x2="606.9" y2="1030.8" stroke="#0a0a0a" stroke-width="1.5"/>
<line x1="599.5" y1="998.8" x2="614.3" y2="998.8" stroke="#0a0a0a" stroke-width="1.5"/>
<line x1="599.5" y1="1030.8" x2="614.3" y2="1030.8" stroke="#0a0a0a" stroke-width="1.5"/>
<line x1="652" y1="1007.9" x2="652" y2="1027.1" stroke="#0a0a0a" stroke-width="1.5"/>
<line x1="644.6" y1="1007.9" x2="659.4" y2="1007.9" stroke="#0a0a0a" stroke-width="1.5"/>
<line x1="644.6" y1="1027.1" x2="659.4" y2="1027.1" stroke="#0a0a0a" stroke-width="1.5"/>
<line x1="697" y1="1020.5" x2="697" y2="1029.1" stroke="#0a0a0a" stroke-width="1.5"/>
<line x1="689.6" y1="1020.5" x2="704.4" y2="1020.5" stroke="#0a0a0a" stroke-width="1.5"/>
<line x1="689.6" y1="1029.1" x2="704.4" y2="1029.1" stroke="#0a0a0a" stroke-width="1.5"/>
<circle cx="516.7" cy="1056.7" r="3.6" fill="#2e4a54" stroke="#0a0a0a" stroke-width="1.4"/>
<circle cx="516.7" cy="1069" r="3.6" fill="#2e4a54" stroke="#0a0a0a" stroke-width="1.4"/>
<circle cx="516.7" cy="1099.8" r="3.6" fill="#2e4a54" stroke="#0a0a0a" stroke-width="1.4"/>
<circle cx="573.2" cy="1009.9" r="3.6" fill="#417a6f" stroke="#0a0a0a" stroke-width="1.4"/>
<circle cx="561.8" cy="1013.6" r="3.6" fill="#417a6f" stroke="#0a0a0a" stroke-width="1.4"/>
<circle cx="561.8" cy="1031.6" r="3.6" fill="#417a6f" stroke="#0a0a0a" stroke-width="1.4"/>
<circle cx="595.8" cy="1003.3" r="3.6" fill="#50a68b" stroke="#0a0a0a" stroke-width="1.4"/>
<circle cx="606.9" cy="1007.4" r="3.6" fill="#50a68b" stroke="#0a0a0a" stroke-width="1.4"/>
<circle cx="606.9" cy="1032.8" r="3.6" fill="#50a68b" stroke="#0a0a0a" stroke-width="1.4"/>
<circle cx="663" cy="1009.2" r="3.6" fill="#d9c06a" stroke="#0a0a0a" stroke-width="1.4"/>
<circle cx="652" cy="1015.3" r="3.6" fill="#d9c06a" stroke="#0a0a0a" stroke-width="1.4"/>
<circle cx="652" cy="1027.6" r="3.6" fill="#d9c06a" stroke="#0a0a0a" stroke-width="1.4"/>
<circle cx="697" cy="1021.7" r="3.6" fill="#da6b51" stroke="#0a0a0a" stroke-width="1.4"/>
<circle cx="708.4" cy="1023.4" r="3.6" fill="#da6b51" stroke="#0a0a0a" stroke-width="1.4"/>
<circle cx="685.7" cy="1030.1" r="3.6" fill="#da6b51" stroke="#0a0a0a" stroke-width="1.4"/>
<line x1="487.4" y1="954.8" x2="487.4" y2="1196.4" stroke="#0a0a0a" stroke-width="2.8"/>
<line x1="476.4" y1="1196.4" x2="728.1" y2="1196.4" stroke="#0a0a0a" stroke-width="2.8"/>
<line x1="476.4" y1="956.2" x2="487.4" y2="956.2" stroke="#0a0a0a" stroke-width="2.8"/>
<text x="474.9" y="962.6" text-anchor="end" font-weight="bold" font-size="18">2.0</text>
<line x1="476.4" y1="1016.6" x2="487.4" y2="1016.6" stroke="#0a0a0a" stroke-width="2.8"/>
<text x="474.9" y="1023" text-anchor="end" font-weight="bold" font-size="18">1.5</text>
<line x1="476.4" y1="1076.4" x2="487.4" y2="1076.4" stroke="#0a0a0a" stroke-width="2.8"/>
<text x="474.9" y="1082.8" text-anchor="end" font-weight="bold" font-size="18">1.0</text>
<line x1="476.4" y1="1136.7" x2="487.4" y2="1136.7" stroke="#0a0a0a" stroke-width="2.8"/>
<text x="474.9" y="1143.1" text-anchor="end" font-weight="bold" font-size="18">0.5</text>
<line x1="476.4" y1="1196.4" x2="487.4" y2="1196.4" stroke="#0a0a0a" stroke-width="2.8"/>
<text x="474.9" y="1202.8" text-anchor="end" font-weight="bold" font-size="18">0.0</text>
<line x1="516.7" y1="1196.4" x2="516.7" y2="1207.8" stroke="#0a0a0a" stroke-width="2.8"/>
<text x="516.7" y="1224.7" text-anchor="middle" font-weight="bold" font-size="17.6">-</text>
<line x1="561.8" y1="1196.4" x2="561.8" y2="1207.8" stroke="#0a0a0a" stroke-width="2.8"/>
<text x="561.8" y="1224.7" text-anchor="middle" font-weight="bold" font-size="17.6">3</text>
<line x1="606.9" y1="1196.4" x2="606.9" y2="1207.8" stroke="#0a0a0a" stroke-width="2.8"/>
<text x="606.9" y="1224.7" text-anchor="middle" font-weight="bold" font-size="17.6">6</text>
<line x1="652" y1="1196.4" x2="652" y2="1207.8" stroke="#0a0a0a" stroke-width="2.8"/>
<text x="652" y="1224.7" text-anchor="middle" font-weight="bold" font-size="17.6">12</text>
<line x1="697" y1="1196.4" x2="697" y2="1207.8" stroke="#0a0a0a" stroke-width="2.8"/>
<text x="697" y="1224.7" text-anchor="middle" font-weight="bold" font-size="17.6">24H</text>
<text x="409.4" y="1225.4" font-weight="bold" font-size="17.3" textLength="76.8" lengthAdjust="spacingAndGlyphs">LPS+ATP</text>
<line x1="516.5" y1="987.2" x2="563" y2="987.2" stroke="#0a0a0a" stroke-width="2.8"/>
<text class="st" x="525.9 541.2" y="981.4" font-size="24">**</text>
<text class="yl" transform="translate(437.7,1075.8) rotate(-90)" text-anchor="middle" font-size="17.6" textLength="213" lengthAdjust="spacingAndGlyphs" xml:space="preserve">Relative <tspan font-style="italic">Gsdmd</tspan> mRNA level</text>
<rect x="870.8" y="1178.1" width="29.1" height="19.7" fill="#2e4a54" stroke="#101414" stroke-width="1.2"/>
<rect x="915.9" y="987" width="29.3" height="125.6" fill="#417a6f"/>
<rect x="915.9" y="1131.1" width="29.3" height="66.7" fill="#417a6f"/>
<path d="M915.9,1112.6V987H945.2V1112.6M915.9,1131.1V1197.8M945.2,1131.1V1197.8" fill="none" stroke="#101414" stroke-width="1.2"/>
<rect x="961.2" y="1040.2" width="29.3" height="72.4" fill="#50a68b"/>
<rect x="961.2" y="1131.1" width="29.3" height="66.7" fill="#50a68b"/>
<path d="M961.2,1112.6V1040.2H990.5V1112.6M961.2,1131.1V1197.8M990.5,1131.1V1197.8" fill="none" stroke="#101414" stroke-width="1.2"/>
<rect x="1006.8" y="1049.3" width="29.1" height="63.3" fill="#d9c06a"/>
<rect x="1006.8" y="1131.1" width="29.1" height="66.7" fill="#d9c06a"/>
<path d="M1006.8,1112.6V1049.3H1035.9V1112.6M1006.8,1131.1V1197.8M1035.9,1131.1V1197.8" fill="none" stroke="#101414" stroke-width="1.2"/>
<rect x="1052.1" y="1067.8" width="29.3" height="44.8" fill="#da6b51"/>
<rect x="1052.1" y="1131.1" width="29.3" height="66.7" fill="#da6b51"/>
<path d="M1052.1,1112.6V1067.8H1081.4V1112.6M1052.1,1131.1V1197.8M1081.4,1131.1V1197.8" fill="none" stroke="#101414" stroke-width="1.2"/>
<line x1="885.4" y1="1174.4" x2="885.4" y2="1179.5" stroke="#0a0a0a" stroke-width="1.5"/>
<line x1="878" y1="1174.4" x2="892.8" y2="1174.4" stroke="#0a0a0a" stroke-width="1.5"/>
<line x1="878" y1="1179.5" x2="892.8" y2="1179.5" stroke="#0a0a0a" stroke-width="1.5"/>
<line x1="930.7" y1="984.8" x2="930.7" y2="987.4" stroke="#0a0a0a" stroke-width="1.5"/>
<line x1="923.3" y1="984.8" x2="938.1" y2="984.8" stroke="#0a0a0a" stroke-width="1.5"/>
<line x1="923.3" y1="987.4" x2="938.1" y2="987.4" stroke="#0a0a0a" stroke-width="1.5"/>
<line x1="976" y1="1038.6" x2="976" y2="1040.6" stroke="#0a0a0a" stroke-width="1.5"/>
<line x1="968.6" y1="1038.6" x2="983.4" y2="1038.6" stroke="#0a0a0a" stroke-width="1.5"/>
<line x1="968.6" y1="1040.6" x2="983.4" y2="1040.6" stroke="#0a0a0a" stroke-width="1.5"/>
<line x1="1021.6" y1="1041.9" x2="1021.6" y2="1051.8" stroke="#0a0a0a" stroke-width="1.5"/>
<line x1="1014.2" y1="1041.9" x2="1029" y2="1041.9" stroke="#0a0a0a" stroke-width="1.5"/>
<line x1="1014.2" y1="1051.8" x2="1029" y2="1051.8" stroke="#0a0a0a" stroke-width="1.5"/>
<line x1="1066.9" y1="1064.6" x2="1066.9" y2="1068" stroke="#0a0a0a" stroke-width="1.5"/>
<line x1="1059.5" y1="1064.6" x2="1074.3" y2="1064.6" stroke="#0a0a0a" stroke-width="1.5"/>
<line x1="1059.5" y1="1068" x2="1074.3" y2="1068" stroke="#0a0a0a" stroke-width="1.5"/>
<circle cx="874" cy="1179.4" r="3.6" fill="#2e4a54" stroke="#0a0a0a" stroke-width="1.4"/>
<circle cx="885.4" cy="1174.4" r="3.6" fill="#2e4a54" stroke="#0a0a0a" stroke-width="1.4"/>
<circle cx="896.7" cy="1177.4" r="3.6" fill="#2e4a54" stroke="#0a0a0a" stroke-width="1.4"/>
<circle cx="919.6" cy="987" r="3.6" fill="#417a6f" stroke="#0a0a0a" stroke-width="1.4"/>
<circle cx="930.7" cy="984.5" r="3.6" fill="#417a6f" stroke="#0a0a0a" stroke-width="1.4"/>
<circle cx="942.3" cy="986" r="3.6" fill="#417a6f" stroke="#0a0a0a" stroke-width="1.4"/>
<circle cx="964.9" cy="1040.7" r="3.6" fill="#50a68b" stroke="#0a0a0a" stroke-width="1.4"/>
<circle cx="976" cy="1039" r="3.6" fill="#50a68b" stroke="#0a0a0a" stroke-width="1.4"/>
<circle cx="987.3" cy="1039.2" r="3.6" fill="#50a68b" stroke="#0a0a0a" stroke-width="1.4"/>
<circle cx="1010.2" cy="1049.8" r="3.6" fill="#d9c06a" stroke="#0a0a0a" stroke-width="1.4"/>
<circle cx="1021.6" cy="1041.2" r="3.6" fill="#d9c06a" stroke="#0a0a0a" stroke-width="1.4"/>
<circle cx="1032.9" cy="1049.1" r="3.6" fill="#d9c06a" stroke="#0a0a0a" stroke-width="1.4"/>
<circle cx="1055.6" cy="1067.3" r="3.6" fill="#da6b51" stroke="#0a0a0a" stroke-width="1.4"/>
<circle cx="1066.9" cy="1064.1" r="3.6" fill="#da6b51" stroke="#0a0a0a" stroke-width="1.4"/>
<circle cx="1078.2" cy="1067.3" r="3.6" fill="#da6b51" stroke="#0a0a0a" stroke-width="1.4"/>
<line x1="855.6" y1="955.2" x2="855.6" y2="1112.6" stroke="#0a0a0a" stroke-width="2"/>
<line x1="850.6" y1="1112.6" x2="860.6" y2="1112.6" stroke="#0a0a0a" stroke-width="2"/>
<line x1="855.6" y1="1131.1" x2="855.6" y2="1197.8" stroke="#0a0a0a" stroke-width="2"/>
<line x1="850.6" y1="1131.1" x2="860.6" y2="1131.1" stroke="#0a0a0a" stroke-width="2"/>
<line x1="845.6" y1="1197.8" x2="1097.4" y2="1197.8" stroke="#0a0a0a" stroke-width="2"/>
<line x1="845.6" y1="956.2" x2="855.6" y2="956.2" stroke="#0a0a0a" stroke-width="2"/>
<text x="844.1" y="962.9" text-anchor="end" font-weight="bold" font-size="18.8">400</text>
<line x1="845.6" y1="996.4" x2="855.6" y2="996.4" stroke="#0a0a0a" stroke-width="2"/>
<text x="844.1" y="1003.1" text-anchor="end" font-weight="bold" font-size="18.8">300</text>
<line x1="845.6" y1="1036.5" x2="855.6" y2="1036.5" stroke="#0a0a0a" stroke-width="2"/>
<text x="844.1" y="1043.2" text-anchor="end" font-weight="bold" font-size="18.8">200</text>
<line x1="845.6" y1="1076.4" x2="855.6" y2="1076.4" stroke="#0a0a0a" stroke-width="2"/>
<text x="844.1" y="1083.1" text-anchor="end" font-weight="bold" font-size="18.8">100</text>
<line x1="845.6" y1="1131.1" x2="855.6" y2="1131.1" stroke="#0a0a0a" stroke-width="2"/>
<text x="844.1" y="1137.8" text-anchor="end" font-weight="bold" font-size="18.8">3</text>
<line x1="845.6" y1="1152.8" x2="855.6" y2="1152.8" stroke="#0a0a0a" stroke-width="2"/>
<text x="844.1" y="1159.5" text-anchor="end" font-weight="bold" font-size="18.8">2</text>
<line x1="845.6" y1="1175.4" x2="855.6" y2="1175.4" stroke="#0a0a0a" stroke-width="2"/>
<text x="844.1" y="1182.1" text-anchor="end" font-weight="bold" font-size="18.8">1</text>
<line x1="845.6" y1="1197.8" x2="855.6" y2="1197.8" stroke="#0a0a0a" stroke-width="2"/>
<text x="844.1" y="1204.5" text-anchor="end" font-weight="bold" font-size="18.8">0</text>
<line x1="885.4" y1="1197.8" x2="885.4" y2="1207.8" stroke="#0a0a0a" stroke-width="2"/>
<text x="885.4" y="1226.7" text-anchor="middle" font-weight="bold" font-size="17.6">-</text>
<line x1="930.7" y1="1197.8" x2="930.7" y2="1207.8" stroke="#0a0a0a" stroke-width="2"/>
<text x="930.7" y="1226.7" text-anchor="middle" font-weight="bold" font-size="17.6">3</text>
<line x1="976" y1="1197.8" x2="976" y2="1207.8" stroke="#0a0a0a" stroke-width="2"/>
<text x="976" y="1226.7" text-anchor="middle" font-weight="bold" font-size="17.6">6</text>
<line x1="1021.6" y1="1197.8" x2="1021.6" y2="1207.8" stroke="#0a0a0a" stroke-width="2"/>
<text x="1021.6" y="1226.7" text-anchor="middle" font-weight="bold" font-size="17.6">12</text>
<line x1="1066.9" y1="1197.8" x2="1066.9" y2="1207.8" stroke="#0a0a0a" stroke-width="2"/>
<text x="1066.9" y="1226.7" text-anchor="middle" font-weight="bold" font-size="17.6">24H</text>
<text x="776.7" y="1227.9" font-weight="bold" font-size="17.3" textLength="76.9" lengthAdjust="spacingAndGlyphs">LPS+ATP</text>
<line x1="885.6" y1="971.7" x2="931.7" y2="971.7" stroke="#0a0a0a" stroke-width="2"/>
<text class="st" x="879.5 894.8 910.1 925.4" y="965.9" font-size="24">****</text>
<text class="yl" transform="translate(800.6,1076.8) rotate(-90)" text-anchor="middle" font-size="17.6" textLength="193.8" lengthAdjust="spacingAndGlyphs" xml:space="preserve">Relative <tspan font-style="italic" font-weight="bold">Il-1β</tspan> mRNA level</text>
<rect x="114.4" y="1552.6" width="34.7" height="175.6" fill="#2e4a54" stroke="#101414" stroke-width="1.2"/>
<rect x="167.4" y="1687.2" width="34.2" height="41" fill="#50a68b" stroke="#101414" stroke-width="1.2"/>
<rect x="220.3" y="1676.5" width="34.3" height="51.7" fill="#d9c06a" stroke="#101414" stroke-width="1.2"/>
<line x1="131.8" y1="1547.1" x2="131.8" y2="1556.9" stroke="#0a0a0a" stroke-width="1.5"/>
<line x1="122.8" y1="1547.1" x2="140.8" y2="1547.1" stroke="#0a0a0a" stroke-width="1.5"/>
<line x1="122.8" y1="1556.9" x2="140.8" y2="1556.9" stroke="#0a0a0a" stroke-width="1.5"/>
<line x1="184.7" y1="1682.5" x2="184.7" y2="1691.9" stroke="#0a0a0a" stroke-width="1.5"/>
<line x1="175.7" y1="1682.5" x2="193.7" y2="1682.5" stroke="#0a0a0a" stroke-width="1.5"/>
<line x1="175.7" y1="1691.9" x2="193.7" y2="1691.9" stroke="#0a0a0a" stroke-width="1.5"/>
<line x1="237.6" y1="1671.6" x2="237.6" y2="1680.6" stroke="#0a0a0a" stroke-width="1.5"/>
<line x1="228.6" y1="1671.6" x2="246.6" y2="1671.6" stroke="#0a0a0a" stroke-width="1.5"/>
<line x1="228.6" y1="1680.6" x2="246.6" y2="1680.6" stroke="#0a0a0a" stroke-width="1.5"/>
<circle cx="131.8" cy="1547.5" r="3.6" fill="#2e4a54" stroke="#0a0a0a" stroke-width="1.4"/>
<circle cx="145.3" cy="1551.3" r="3.6" fill="#2e4a54" stroke="#0a0a0a" stroke-width="1.4"/>
<circle cx="118.1" cy="1557.8" r="3.6" fill="#2e4a54" stroke="#0a0a0a" stroke-width="1.4"/>
<circle cx="184.7" cy="1682.5" r="3.6" fill="#50a68b" stroke="#0a0a0a" stroke-width="1.4"/>
<circle cx="198.2" cy="1687.2" r="3.6" fill="#50a68b" stroke="#0a0a0a" stroke-width="1.4"/>
<circle cx="171" cy="1691.9" r="3.6" fill="#50a68b" stroke="#0a0a0a" stroke-width="1.4"/>
<circle cx="237.6" cy="1671.3" r="3.6" fill="#d9c06a" stroke="#0a0a0a" stroke-width="1.4"/>
<circle cx="251.3" cy="1676.9" r="3.6" fill="#d9c06a" stroke="#0a0a0a" stroke-width="1.4"/>
<circle cx="224.1" cy="1680.6" r="3.6" fill="#d9c06a" stroke="#0a0a0a" stroke-width="1.4"/>
<line x1="96.2" y1="1462" x2="96.2" y2="1728.2" stroke="#0a0a0a" stroke-width="3"/>
<line x1="85.2" y1="1728.2" x2="273.4" y2="1728.2" stroke="#0a0a0a" stroke-width="3"/>
<line x1="85.2" y1="1463.5" x2="96.2" y2="1463.5" stroke="#0a0a0a" stroke-width="3"/>
<text x="82.7" y="1470.8" text-anchor="end" font-weight="bold" font-size="20.3">1.5</text>
<line x1="85.2" y1="1552.6" x2="96.2" y2="1552.6" stroke="#0a0a0a" stroke-width="3"/>
<text x="82.7" y="1559.9" text-anchor="end" font-weight="bold" font-size="20.3">1.0</text>
<line x1="85.2" y1="1639.5" x2="96.2" y2="1639.5" stroke="#0a0a0a" stroke-width="3"/>
<text x="82.7" y="1646.8" text-anchor="end" font-weight="bold" font-size="20.3">0.5</text>
<line x1="85.2" y1="1728.2" x2="96.2" y2="1728.2" stroke="#0a0a0a" stroke-width="3"/>
<text x="82.7" y="1735.5" text-anchor="end" font-weight="bold" font-size="20.3">0.0</text>
<line x1="131.2" y1="1728.2" x2="131.2" y2="1740.7" stroke="#0a0a0a" stroke-width="3"/>
<text transform="translate(136,1755.5) rotate(-45)" text-anchor="end" font-weight="bold" font-size="20">NC</text>
<line x1="184.7" y1="1728.2" x2="184.7" y2="1740.7" stroke="#0a0a0a" stroke-width="3"/>
<text transform="translate(189.5,1755.5) rotate(-45)" text-anchor="end" font-weight="bold" font-size="20">LPS</text>
<line x1="237.6" y1="1728.2" x2="237.6" y2="1740.7" stroke="#0a0a0a" stroke-width="3"/>
<text transform="translate(242.4,1755.5) rotate(-45)" text-anchor="end" font-weight="bold" font-size="20">LPS+ATP</text>
<line x1="130.7" y1="1530.1" x2="183.8" y2="1530.1" stroke="#0a0a0a" stroke-width="3"/>
<text class="st" x="125.4 142.1 158.8 175.5" y="1524.5" font-size="26.5">****</text>
<line x1="184.3" y1="1659.5" x2="238.5" y2="1659.5" stroke="#0a0a0a" stroke-width="3"/>
<text x="211.4" y="1644.9" text-anchor="middle" class="yl" font-size="21">ns</text>
<text class="yl" transform="translate(43.1,1596) rotate(-90)" text-anchor="middle" font-size="18.5" textLength="243" lengthAdjust="spacingAndGlyphs" xml:space="preserve">Relative <tspan font-style="italic">Angptl2</tspan> mRNA level</text>
<rect x="401.3" y="1649.4" width="34.1" height="86.2" fill="#2e4a54" stroke="#101414" stroke-width="1.2"/>
<rect x="453.4" y="1601.6" width="34.1" height="134" fill="#50a68b" stroke="#101414" stroke-width="1.2"/>
<rect x="505.7" y="1497.1" width="34.3" height="238.5" fill="#d9c06a" stroke="#101414" stroke-width="1.2"/>
<line x1="418.1" y1="1641.9" x2="418.1" y2="1656" stroke="#0a0a0a" stroke-width="1.5"/>
<line x1="409.1" y1="1641.9" x2="427.1" y2="1641.9" stroke="#0a0a0a" stroke-width="1.5"/>
<line x1="409.1" y1="1656" x2="427.1" y2="1656" stroke="#0a0a0a" stroke-width="1.5"/>
<line x1="470.3" y1="1595.4" x2="470.3" y2="1606.8" stroke="#0a0a0a" stroke-width="1.5"/>
<line x1="461.3" y1="1595.4" x2="479.3" y2="1595.4" stroke="#0a0a0a" stroke-width="1.5"/>
<line x1="461.3" y1="1606.8" x2="479.3" y2="1606.8" stroke="#0a0a0a" stroke-width="1.5"/>
<line x1="522.8" y1="1487.2" x2="522.8" y2="1505.9" stroke="#0a0a0a" stroke-width="1.5"/>
<line x1="513.8" y1="1487.2" x2="531.8" y2="1487.2" stroke="#0a0a0a" stroke-width="1.5"/>
<line x1="513.8" y1="1505.9" x2="531.8" y2="1505.9" stroke="#0a0a0a" stroke-width="1.5"/>
<circle cx="418.1" cy="1640.6" r="3.6" fill="#2e4a54" stroke="#0a0a0a" stroke-width="1.4"/>
<circle cx="431.8" cy="1651.3" r="3.6" fill="#2e4a54" stroke="#0a0a0a" stroke-width="1.4"/>
<circle cx="405" cy="1655" r="3.6" fill="#2e4a54" stroke="#0a0a0a" stroke-width="1.4"/>
<circle cx="470.3" cy="1595.4" r="3.6" fill="#50a68b" stroke="#0a0a0a" stroke-width="1.4"/>
<circle cx="484.1" cy="1601.2" r="3.6" fill="#50a68b" stroke="#0a0a0a" stroke-width="1.4"/>
<circle cx="457.1" cy="1606.8" r="3.6" fill="#50a68b" stroke="#0a0a0a" stroke-width="1.4"/>
<circle cx="536.6" cy="1488.1" r="3.6" fill="#d9c06a" stroke="#0a0a0a" stroke-width="1.4"/>
<circle cx="522.8" cy="1495.6" r="3.6" fill="#d9c06a" stroke="#0a0a0a" stroke-width="1.4"/>
<circle cx="522.8" cy="1507.3" r="3.6" fill="#d9c06a" stroke="#0a0a0a" stroke-width="1.4"/>
<line x1="383.4" y1="1472.6" x2="383.4" y2="1735.6" stroke="#0a0a0a" stroke-width="3"/>
<line x1="372.4" y1="1735.6" x2="559.3" y2="1735.6" stroke="#0a0a0a" stroke-width="3"/>
<line x1="372.4" y1="1474.1" x2="383.4" y2="1474.1" stroke="#0a0a0a" stroke-width="3"/>
<text x="369.9" y="1481.4" text-anchor="end" font-weight="bold" font-size="20.3">3</text>
<line x1="372.4" y1="1561.3" x2="383.4" y2="1561.3" stroke="#0a0a0a" stroke-width="3"/>
<text x="369.9" y="1568.6" text-anchor="end" font-weight="bold" font-size="20.3">2</text>
<line x1="372.4" y1="1648.8" x2="383.4" y2="1648.8" stroke="#0a0a0a" stroke-width="3"/>
<text x="369.9" y="1656.1" text-anchor="end" font-weight="bold" font-size="20.3">1</text>
<line x1="372.4" y1="1735.6" x2="383.4" y2="1735.6" stroke="#0a0a0a" stroke-width="3"/>
<text x="369.9" y="1742.9" text-anchor="end" font-weight="bold" font-size="20.3">0</text>
<line x1="418.1" y1="1735.6" x2="418.1" y2="1748.1" stroke="#0a0a0a" stroke-width="3"/>
<text transform="translate(422.9,1762.9) rotate(-45)" text-anchor="end" font-weight="bold" font-size="20">NC</text>
<line x1="470.3" y1="1735.6" x2="470.3" y2="1748.1" stroke="#0a0a0a" stroke-width="3"/>
<text transform="translate(475.1,1762.9) rotate(-45)" text-anchor="end" font-weight="bold" font-size="20">LPS</text>
<line x1="522.8" y1="1735.6" x2="522.8" y2="1748.1" stroke="#0a0a0a" stroke-width="3"/>
<text transform="translate(527.6,1762.9) rotate(-45)" text-anchor="end" font-weight="bold" font-size="20">LPS+ATP</text>
<line x1="417.6" y1="1576.6" x2="469.3" y2="1576.6" stroke="#0a0a0a" stroke-width="3"/>
<text class="st" x="419.9 436.6 453.3" y="1571" font-size="26.5">***</text>
<line x1="465.6" y1="1475.4" x2="522.8" y2="1475.4" stroke="#0a0a0a" stroke-width="3"/>
<text class="st" x="462.3 479 495.7 512.4" y="1469.8" font-size="26.5">****</text>
<text class="yl" transform="translate(346.9,1604.6) rotate(-90)" text-anchor="middle" font-size="18.5" textLength="217.9" lengthAdjust="spacingAndGlyphs" xml:space="preserve">Relative <tspan font-style="italic">Nlrp3</tspan> mRNA level</text>
<rect x="689.4" y="1671.3" width="33.4" height="63.4" fill="#2e4a54" stroke="#101414" stroke-width="1.2"/>
<rect x="740.6" y="1612.5" width="33.2" height="122.2" fill="#50a68b" stroke="#101414" stroke-width="1.2"/>
<rect x="791.6" y="1529.4" width="33.2" height="205.3" fill="#d9c06a" stroke="#101414" stroke-width="1.2"/>
<line x1="706.3" y1="1669.1" x2="706.3" y2="1674.1" stroke="#0a0a0a" stroke-width="1.5"/>
<line x1="697.3" y1="1669.1" x2="715.3" y2="1669.1" stroke="#0a0a0a" stroke-width="1.5"/>
<line x1="697.3" y1="1674.1" x2="715.3" y2="1674.1" stroke="#0a0a0a" stroke-width="1.5"/>
<line x1="757.3" y1="1600.6" x2="757.3" y2="1623.5" stroke="#0a0a0a" stroke-width="1.5"/>
<line x1="748.3" y1="1600.6" x2="766.3" y2="1600.6" stroke="#0a0a0a" stroke-width="1.5"/>
<line x1="748.3" y1="1623.5" x2="766.3" y2="1623.5" stroke="#0a0a0a" stroke-width="1.5"/>
<line x1="808.1" y1="1523.4" x2="808.1" y2="1534.6" stroke="#0a0a0a" stroke-width="1.5"/>
<line x1="799.1" y1="1523.4" x2="817.1" y2="1523.4" stroke="#0a0a0a" stroke-width="1.5"/>
<line x1="799.1" y1="1534.6" x2="817.1" y2="1534.6" stroke="#0a0a0a" stroke-width="1.5"/>
<circle cx="706.3" cy="1669.5" r="3.6" fill="#2e4a54" stroke="#0a0a0a" stroke-width="1.4"/>
<circle cx="719.4" cy="1670" r="3.6" fill="#2e4a54" stroke="#0a0a0a" stroke-width="1.4"/>
<circle cx="693.1" cy="1675.3" r="3.6" fill="#2e4a54" stroke="#0a0a0a" stroke-width="1.4"/>
<circle cx="757.3" cy="1600.6" r="3.6" fill="#50a68b" stroke="#0a0a0a" stroke-width="1.4"/>
<circle cx="757.3" cy="1611.9" r="3.6" fill="#50a68b" stroke="#0a0a0a" stroke-width="1.4"/>
<circle cx="757.3" cy="1624.1" r="3.6" fill="#50a68b" stroke="#0a0a0a" stroke-width="1.4"/>
<circle cx="808.1" cy="1523.2" r="3.6" fill="#d9c06a" stroke="#0a0a0a" stroke-width="1.4"/>
<circle cx="821.2" cy="1529" r="3.6" fill="#d9c06a" stroke="#0a0a0a" stroke-width="1.4"/>
<circle cx="795.3" cy="1534.6" r="3.6" fill="#d9c06a" stroke="#0a0a0a" stroke-width="1.4"/>
<line x1="672.5" y1="1478.8" x2="672.5" y2="1734.7" stroke="#0a0a0a" stroke-width="3"/>
<line x1="661.5" y1="1734.7" x2="843.5" y2="1734.7" stroke="#0a0a0a" stroke-width="3"/>
<line x1="661.5" y1="1480.3" x2="672.5" y2="1480.3" stroke="#0a0a0a" stroke-width="3"/>
<text x="659" y="1487.6" text-anchor="end" font-weight="bold" font-size="20.3">4</text>
<line x1="661.5" y1="1544" x2="672.5" y2="1544" stroke="#0a0a0a" stroke-width="3"/>
<text x="659" y="1551.3" text-anchor="end" font-weight="bold" font-size="20.3">3</text>
<line x1="661.5" y1="1607.6" x2="672.5" y2="1607.6" stroke="#0a0a0a" stroke-width="3"/>
<text x="659" y="1614.9" text-anchor="end" font-weight="bold" font-size="20.3">2</text>
<line x1="661.5" y1="1671.3" x2="672.5" y2="1671.3" stroke="#0a0a0a" stroke-width="3"/>
<text x="659" y="1678.6" text-anchor="end" font-weight="bold" font-size="20.3">1</text>
<line x1="661.5" y1="1734.7" x2="672.5" y2="1734.7" stroke="#0a0a0a" stroke-width="3"/>
<text x="659" y="1742" text-anchor="end" font-weight="bold" font-size="20.3">0</text>
<line x1="706.3" y1="1734.7" x2="706.3" y2="1747.2" stroke="#0a0a0a" stroke-width="3"/>
<text transform="translate(711.1,1762) rotate(-45)" text-anchor="end" font-weight="bold" font-size="20">NC</text>
<line x1="757.3" y1="1734.7" x2="757.3" y2="1747.2" stroke="#0a0a0a" stroke-width="3"/>
<text transform="translate(762.1,1762) rotate(-45)" text-anchor="end" font-weight="bold" font-size="20">LPS</text>
<line x1="808.1" y1="1734.7" x2="808.1" y2="1747.2" stroke="#0a0a0a" stroke-width="3"/>
<text transform="translate(812.9,1762) rotate(-45)" text-anchor="end" font-weight="bold" font-size="20">LPS+ATP</text>
<line x1="704.9" y1="1580.6" x2="755.9" y2="1580.6" stroke="#0a0a0a" stroke-width="3"/>
<text class="st" x="706.9 723.6 740.3" y="1575" font-size="26.5">***</text>
<line x1="752.2" y1="1481.2" x2="808.1" y2="1481.2" stroke="#0a0a0a" stroke-width="3"/>
<text class="st" x="748.3 765 781.7 798.4" y="1475.6" font-size="26.5">****</text>
<text class="yl" transform="translate(635.6,1607.7) rotate(-90)" text-anchor="middle" font-size="18.5" textLength="244.7" lengthAdjust="spacingAndGlyphs" xml:space="preserve">Relative <tspan font-style="italic">Caspase1</tspan> mRNA level</text>
<rect x="991.3" y="1625" width="34.1" height="104.1" fill="#2e4a54" stroke="#101414" stroke-width="1.2"/>
<rect x="1043.4" y="1574" width="34.1" height="155.1" fill="#50a68b" stroke="#101414" stroke-width="1.2"/>
<rect x="1095.7" y="1518.1" width="34.7" height="211" fill="#d9c06a" stroke="#101414" stroke-width="1.2"/>
<line x1="1008.1" y1="1621.8" x2="1008.1" y2="1627.4" stroke="#0a0a0a" stroke-width="1.5"/>
<line x1="999.1" y1="1621.8" x2="1017.1" y2="1621.8" stroke="#0a0a0a" stroke-width="1.5"/>
<line x1="999.1" y1="1627.4" x2="1017.1" y2="1627.4" stroke="#0a0a0a" stroke-width="1.5"/>
<line x1="1060.3" y1="1570.6" x2="1060.3" y2="1576.3" stroke="#0a0a0a" stroke-width="1.5"/>
<line x1="1051.3" y1="1570.6" x2="1069.3" y2="1570.6" stroke="#0a0a0a" stroke-width="1.5"/>
<line x1="1051.3" y1="1576.3" x2="1069.3" y2="1576.3" stroke="#0a0a0a" stroke-width="1.5"/>
<line x1="1113.1" y1="1513.4" x2="1113.1" y2="1519.1" stroke="#0a0a0a" stroke-width="1.5"/>
<line x1="1104.1" y1="1513.4" x2="1122.1" y2="1513.4" stroke="#0a0a0a" stroke-width="1.5"/>
<line x1="1104.1" y1="1519.1" x2="1122.1" y2="1519.1" stroke="#0a0a0a" stroke-width="1.5"/>
<circle cx="1008.1" cy="1622.6" r="3.6" fill="#2e4a54" stroke="#0a0a0a" stroke-width="1.4"/>
<circle cx="1022.2" cy="1623.5" r="3.6" fill="#2e4a54" stroke="#0a0a0a" stroke-width="1.4"/>
<circle cx="995" cy="1627.8" r="3.6" fill="#2e4a54" stroke="#0a0a0a" stroke-width="1.4"/>
<circle cx="1060.6" cy="1570.6" r="3.6" fill="#50a68b" stroke="#0a0a0a" stroke-width="1.4"/>
<circle cx="1074.3" cy="1573.4" r="3.6" fill="#50a68b" stroke="#0a0a0a" stroke-width="1.4"/>
<circle cx="1047.5" cy="1576.3" r="3.6" fill="#50a68b" stroke="#0a0a0a" stroke-width="1.4"/>
<circle cx="1113.1" cy="1513.1" r="3.6" fill="#d9c06a" stroke="#0a0a0a" stroke-width="1.4"/>
<circle cx="1126.6" cy="1516.6" r="3.6" fill="#d9c06a" stroke="#0a0a0a" stroke-width="1.4"/>
<circle cx="1099.4" cy="1519.1" r="3.6" fill="#d9c06a" stroke="#0a0a0a" stroke-width="1.4"/>
<line x1="974" y1="1465.6" x2="974" y2="1729.1" stroke="#0a0a0a" stroke-width="3"/>
<line x1="963" y1="1729.1" x2="1149.3" y2="1729.1" stroke="#0a0a0a" stroke-width="3"/>
<line x1="963" y1="1467.1" x2="974" y2="1467.1" stroke="#0a0a0a" stroke-width="3"/>
<text x="960.5" y="1474.4" text-anchor="end" font-weight="bold" font-size="20.3">2.5</text>
<line x1="963" y1="1519.6" x2="974" y2="1519.6" stroke="#0a0a0a" stroke-width="3"/>
<text x="960.5" y="1526.9" text-anchor="end" font-weight="bold" font-size="20.3">2.0</text>
<line x1="963" y1="1572" x2="974" y2="1572" stroke="#0a0a0a" stroke-width="3"/>
<text x="960.5" y="1579.3" text-anchor="end" font-weight="bold" font-size="20.3">1.5</text>
<line x1="963" y1="1624.1" x2="974" y2="1624.1" stroke="#0a0a0a" stroke-width="3"/>
<text x="960.5" y="1631.4" text-anchor="end" font-weight="bold" font-size="20.3">1.0</text>
<line x1="963" y1="1676.6" x2="974" y2="1676.6" stroke="#0a0a0a" stroke-width="3"/>
<text x="960.5" y="1683.9" text-anchor="end" font-weight="bold" font-size="20.3">0.5</text>
<line x1="963" y1="1729.1" x2="974" y2="1729.1" stroke="#0a0a0a" stroke-width="3"/>
<text x="960.5" y="1736.4" text-anchor="end" font-weight="bold" font-size="20.3">0.0</text>
<line x1="1008.1" y1="1729.1" x2="1008.1" y2="1741.6" stroke="#0a0a0a" stroke-width="3"/>
<text transform="translate(1012.9,1756.4) rotate(-45)" text-anchor="end" font-weight="bold" font-size="20">NC</text>
<line x1="1060.3" y1="1729.1" x2="1060.3" y2="1741.6" stroke="#0a0a0a" stroke-width="3"/>
<text transform="translate(1065.1,1756.4) rotate(-45)" text-anchor="end" font-weight="bold" font-size="20">LPS</text>
<line x1="1113.1" y1="1729.1" x2="1113.1" y2="1741.6" stroke="#0a0a0a" stroke-width="3"/>
<text transform="translate(1117.9,1756.4) rotate(-45)" text-anchor="end" font-weight="bold" font-size="20">LPS+ATP</text>
<line x1="1007.6" y1="1553.4" x2="1059.7" y2="1553.4" stroke="#0a0a0a" stroke-width="3"/>
<text class="st" x="1001.8 1018.5 1035.2 1051.9" y="1547.8" font-size="26.5">****</text>
<line x1="1055.6" y1="1494.7" x2="1113.1" y2="1494.7" stroke="#0a0a0a" stroke-width="3"/>
<text class="st" x="1052.5 1069.2 1085.9 1102.6" y="1489.1" font-size="26.5">****</text>
<text class="yl" transform="translate(919.6,1598) rotate(-90)" text-anchor="middle" font-size="18.5" textLength="231" lengthAdjust="spacingAndGlyphs" xml:space="preserve">Relative <tspan font-style="italic">Gsdmd</tspan> mRNA level</text>
<rect x="1306.3" y="1728.1" width="34.6" height="2.3" fill="#2e4a54" stroke="#101414" stroke-width="1.2"/>
<rect x="1360.6" y="1676.6" width="35.1" height="53.8" fill="#50a68b" stroke="#101414" stroke-width="1.2"/>
<rect x="1415" y="1550.6" width="35.1" height="179.8" fill="#d9c06a" stroke="#101414" stroke-width="1.2"/>
<line x1="1378.1" y1="1671.5" x2="1378.1" y2="1680.7" stroke="#0a0a0a" stroke-width="1.5"/>
<line x1="1369.1" y1="1671.5" x2="1387.1" y2="1671.5" stroke="#0a0a0a" stroke-width="1.5"/>
<line x1="1369.1" y1="1680.7" x2="1387.1" y2="1680.7" stroke="#0a0a0a" stroke-width="1.5"/>
<line x1="1432.5" y1="1535" x2="1432.5" y2="1565.4" stroke="#0a0a0a" stroke-width="1.5"/>
<line x1="1423.5" y1="1535" x2="1441.5" y2="1535" stroke="#0a0a0a" stroke-width="1.5"/>
<line x1="1423.5" y1="1565.4" x2="1441.5" y2="1565.4" stroke="#0a0a0a" stroke-width="1.5"/>
<circle cx="1309.4" cy="1727.6" r="3.6" fill="#2e4a54" stroke="#0a0a0a" stroke-width="1.4"/>
<circle cx="1323.1" cy="1726.6" r="3.6" fill="#2e4a54" stroke="#0a0a0a" stroke-width="1.4"/>
<circle cx="1337.6" cy="1727.6" r="3.6" fill="#2e4a54" stroke="#0a0a0a" stroke-width="1.4"/>
<circle cx="1378.1" cy="1671" r="3.6" fill="#50a68b" stroke="#0a0a0a" stroke-width="1.4"/>
<circle cx="1392.1" cy="1678.1" r="3.6" fill="#50a68b" stroke="#0a0a0a" stroke-width="1.4"/>
<circle cx="1364" cy="1680.3" r="3.6" fill="#50a68b" stroke="#0a0a0a" stroke-width="1.4"/>
<circle cx="1432.5" cy="1535.4" r="3.6" fill="#d9c06a" stroke="#0a0a0a" stroke-width="1.4"/>
<circle cx="1432.5" cy="1548.5" r="3.6" fill="#d9c06a" stroke="#0a0a0a" stroke-width="1.4"/>
<circle cx="1432.5" cy="1566.3" r="3.6" fill="#d9c06a" stroke="#0a0a0a" stroke-width="1.4"/>
<line x1="1286.9" y1="1456" x2="1286.9" y2="1730.4" stroke="#0a0a0a" stroke-width="2.4"/>
<line x1="1275.9" y1="1730.4" x2="1470" y2="1730.4" stroke="#0a0a0a" stroke-width="2.4"/>
<line x1="1275.9" y1="1457.2" x2="1286.9" y2="1457.2" stroke="#0a0a0a" stroke-width="2.4"/>
<text x="1273.4" y="1464.5" text-anchor="end" font-weight="bold" font-size="20.3">80</text>
<line x1="1275.9" y1="1525.6" x2="1286.9" y2="1525.6" stroke="#0a0a0a" stroke-width="2.4"/>
<text x="1273.4" y="1532.9" text-anchor="end" font-weight="bold" font-size="20.3">60</text>
<line x1="1275.9" y1="1594.1" x2="1286.9" y2="1594.1" stroke="#0a0a0a" stroke-width="2.4"/>
<text x="1273.4" y="1601.4" text-anchor="end" font-weight="bold" font-size="20.3">40</text>
<line x1="1275.9" y1="1662.5" x2="1286.9" y2="1662.5" stroke="#0a0a0a" stroke-width="2.4"/>
<text x="1273.4" y="1669.8" text-anchor="end" font-weight="bold" font-size="20.3">20</text>
<line x1="1275.9" y1="1730.4" x2="1286.9" y2="1730.4" stroke="#0a0a0a" stroke-width="2.4"/>
<text x="1273.4" y="1737.7" text-anchor="end" font-weight="bold" font-size="20.3">0</text>
<line x1="1323.1" y1="1730.4" x2="1323.1" y2="1742.6" stroke="#0a0a0a" stroke-width="2.4"/>
<text transform="translate(1327.9,1757.7) rotate(-45)" text-anchor="end" font-weight="bold" font-size="20">NC</text>
<line x1="1378.1" y1="1730.4" x2="1378.1" y2="1742.6" stroke="#0a0a0a" stroke-width="2.4"/>
<text transform="translate(1382.9,1757.7) rotate(-45)" text-anchor="end" font-weight="bold" font-size="20">LPS</text>
<line x1="1432.5" y1="1730.4" x2="1432.5" y2="1742.6" stroke="#0a0a0a" stroke-width="2.4"/>
<text transform="translate(1437.3,1757.7) rotate(-45)" text-anchor="end" font-weight="bold" font-size="20">LPS+ATP</text>
<line x1="1322.6" y1="1644.1" x2="1377" y2="1644.1" stroke="#0a0a0a" stroke-width="2.4"/>
<text class="st" x="1317.9 1334.6 1351.3 1368" y="1638.5" font-size="26.5">****</text>
<line x1="1372.8" y1="1511.9" x2="1432.5" y2="1511.9" stroke="#0a0a0a" stroke-width="2.4"/>
<text class="st" x="1370.8 1387.5 1404.2 1420.9" y="1506.3" font-size="26.5">****</text>
<text class="yl" transform="translate(1235.6,1594) rotate(-90)" text-anchor="middle" font-size="18.5" textLength="219.4" lengthAdjust="spacingAndGlyphs" xml:space="preserve">Relative <tspan font-style="italic" font-weight="bold">Il-1β</tspan> mRNA level</text>
<rect x="1610.6" y="1726.3" width="35.3" height="4.3" fill="#2e4a54" stroke="#101414" stroke-width="1.2"/>
<rect x="1664.1" y="1634.9" width="34.6" height="95.7" fill="#50a68b" stroke="#101414" stroke-width="1.2"/>
<rect x="1717.5" y="1556.2" width="34.6" height="174.4" fill="#d9c06a" stroke="#101414" stroke-width="1.2"/>
<line x1="1681.6" y1="1625.7" x2="1681.6" y2="1643.4" stroke="#0a0a0a" stroke-width="1.5"/>
<line x1="1672.6" y1="1625.7" x2="1690.6" y2="1625.7" stroke="#0a0a0a" stroke-width="1.5"/>
<line x1="1672.6" y1="1643.4" x2="1690.6" y2="1643.4" stroke="#0a0a0a" stroke-width="1.5"/>
<line x1="1735" y1="1538.7" x2="1735" y2="1572.3" stroke="#0a0a0a" stroke-width="1.5"/>
<line x1="1726" y1="1538.7" x2="1744" y2="1538.7" stroke="#0a0a0a" stroke-width="1.5"/>
<line x1="1726" y1="1572.3" x2="1744" y2="1572.3" stroke="#0a0a0a" stroke-width="1.5"/>
<circle cx="1614.3" cy="1728.2" r="3.6" fill="#2e4a54" stroke="#0a0a0a" stroke-width="1.4"/>
<circle cx="1623.9" cy="1724" r="3.6" fill="#2e4a54" stroke="#0a0a0a" stroke-width="1.4"/>
<circle cx="1633.1" cy="1725.7" r="3.6" fill="#2e4a54" stroke="#0a0a0a" stroke-width="1.4"/>
<circle cx="1642.3" cy="1724" r="3.6" fill="#2e4a54" stroke="#0a0a0a" stroke-width="1.4"/>
<circle cx="1667.7" cy="1627" r="3.6" fill="#50a68b" stroke="#0a0a0a" stroke-width="1.4"/>
<circle cx="1695.5" cy="1630.6" r="3.6" fill="#50a68b" stroke="#0a0a0a" stroke-width="1.4"/>
<circle cx="1681.6" cy="1632.7" r="3.6" fill="#50a68b" stroke="#0a0a0a" stroke-width="1.4"/>
<circle cx="1681.6" cy="1647.7" r="3.6" fill="#50a68b" stroke="#0a0a0a" stroke-width="1.4"/>
<circle cx="1735" cy="1533" r="3.6" fill="#d9c06a" stroke="#0a0a0a" stroke-width="1.4"/>
<circle cx="1735" cy="1552.2" r="3.6" fill="#d9c06a" stroke="#0a0a0a" stroke-width="1.4"/>
<circle cx="1748.5" cy="1566.5" r="3.6" fill="#d9c06a" stroke="#0a0a0a" stroke-width="1.4"/>
<circle cx="1721.1" cy="1570.1" r="3.6" fill="#d9c06a" stroke="#0a0a0a" stroke-width="1.4"/>
<line x1="1592.9" y1="1463.4" x2="1592.9" y2="1730.6" stroke="#0a0a0a" stroke-width="2.4"/>
<line x1="1581.9" y1="1730.6" x2="1770.9" y2="1730.6" stroke="#0a0a0a" stroke-width="2.4"/>
<line x1="1581.9" y1="1464.6" x2="1592.9" y2="1464.6" stroke="#0a0a0a" stroke-width="2.4"/>
<text x="1579.4" y="1471.9" text-anchor="end" font-weight="bold" font-size="20.3">200</text>
<line x1="1581.9" y1="1531.2" x2="1592.9" y2="1531.2" stroke="#0a0a0a" stroke-width="2.4"/>
<text x="1579.4" y="1538.5" text-anchor="end" font-weight="bold" font-size="20.3">150</text>
<line x1="1581.9" y1="1597.9" x2="1592.9" y2="1597.9" stroke="#0a0a0a" stroke-width="2.4"/>
<text x="1579.4" y="1605.2" text-anchor="end" font-weight="bold" font-size="20.3">100</text>
<line x1="1581.9" y1="1664.1" x2="1592.9" y2="1664.1" stroke="#0a0a0a" stroke-width="2.4"/>
<text x="1579.4" y="1671.4" text-anchor="end" font-weight="bold" font-size="20.3">50</text>
<line x1="1581.9" y1="1730.6" x2="1592.9" y2="1730.6" stroke="#0a0a0a" stroke-width="2.4"/>
<text x="1579.4" y="1737.9" text-anchor="end" font-weight="bold" font-size="20.3">0</text>
<line x1="1628.2" y1="1730.6" x2="1628.2" y2="1742.8" stroke="#0a0a0a" stroke-width="2.4"/>
<text transform="translate(1633,1757.9) rotate(-45)" text-anchor="end" font-weight="bold" font-size="20">NC</text>
<line x1="1681.6" y1="1730.6" x2="1681.6" y2="1742.8" stroke="#0a0a0a" stroke-width="2.4"/>
<text transform="translate(1686.4,1757.9) rotate(-45)" text-anchor="end" font-weight="bold" font-size="20">LPS</text>
<line x1="1735" y1="1730.6" x2="1735" y2="1742.8" stroke="#0a0a0a" stroke-width="2.4"/>
<text transform="translate(1739.8,1757.9) rotate(-45)" text-anchor="end" font-weight="bold" font-size="20">LPS+ATP</text>
<line x1="1627.3" y1="1612.9" x2="1680.5" y2="1612.9" stroke="#0a0a0a" stroke-width="2.4"/>
<text class="st" x="1622 1638.7 1655.4 1672.1" y="1607.3" font-size="26.5">****</text>
<line x1="1676.2" y1="1517.1" x2="1734.6" y2="1517.1" stroke="#0a0a0a" stroke-width="2.4"/>
<text class="st" x="1673.5 1690.2 1706.9 1723.6" y="1511.5" font-size="26.5">****</text>
<text transform="translate(1532.6,1653) rotate(-90)" font-size="18" font-weight="bold">IL-1β<tspan class="cj" font-weight="normal" dx="-7.2">（</tspan>pg/ml<tspan class="cj" font-weight="normal">）</tspan></text>
<rect x="316.5" y="1982.4" width="28.9" height="158.5" fill="#2e4a54" stroke="#101414" stroke-width="1.2"/>
<rect x="361.1" y="2121.6" width="28.9" height="19.3" fill="#417a6f" stroke="#101414" stroke-width="1.2"/>
<rect x="405.7" y="2111.7" width="29.3" height="29.2" fill="#50a68b" stroke="#101414" stroke-width="1.2"/>
<rect x="451" y="2112.3" width="28.6" height="28.6" fill="#d9c06a" stroke="#101414" stroke-width="1.2"/>
<rect x="495.7" y="2094.2" width="28.6" height="46.7" fill="#da6b51" stroke="#101414" stroke-width="1.2"/>
<line x1="330.9" y1="1971.6" x2="330.9" y2="1992.2" stroke="#0a0a0a" stroke-width="1.5"/>
<line x1="323.5" y1="1971.6" x2="338.3" y2="1971.6" stroke="#0a0a0a" stroke-width="1.5"/>
<line x1="323.5" y1="1992.2" x2="338.3" y2="1992.2" stroke="#0a0a0a" stroke-width="1.5"/>
<line x1="375.6" y1="2114.8" x2="375.6" y2="2126.5" stroke="#0a0a0a" stroke-width="1.5"/>
<line x1="368.2" y1="2114.8" x2="383" y2="2114.8" stroke="#0a0a0a" stroke-width="1.5"/>
<line x1="368.2" y1="2126.5" x2="383" y2="2126.5" stroke="#0a0a0a" stroke-width="1.5"/>
<line x1="420.2" y1="2110.9" x2="420.2" y2="2112.6" stroke="#0a0a0a" stroke-width="1.5"/>
<line x1="412.8" y1="2110.9" x2="427.6" y2="2110.9" stroke="#0a0a0a" stroke-width="1.5"/>
<line x1="412.8" y1="2112.6" x2="427.6" y2="2112.6" stroke="#0a0a0a" stroke-width="1.5"/>
<line x1="465.5" y1="2108.6" x2="465.5" y2="2114.2" stroke="#0a0a0a" stroke-width="1.5"/>
<line x1="458.1" y1="2108.6" x2="472.9" y2="2108.6" stroke="#0a0a0a" stroke-width="1.5"/>
<line x1="458.1" y1="2114.2" x2="472.9" y2="2114.2" stroke="#0a0a0a" stroke-width="1.5"/>
<line x1="510.1" y1="2089.5" x2="510.1" y2="2096.3" stroke="#0a0a0a" stroke-width="1.5"/>
<line x1="502.7" y1="2089.5" x2="517.5" y2="2089.5" stroke="#0a0a0a" stroke-width="1.5"/>
<line x1="502.7" y1="2096.3" x2="517.5" y2="2096.3" stroke="#0a0a0a" stroke-width="1.5"/>
<circle cx="342.3" cy="1973.8" r="3.6" fill="#2e4a54" stroke="#0a0a0a" stroke-width="1.4"/>
<circle cx="330.9" cy="1983" r="3.6" fill="#2e4a54" stroke="#0a0a0a" stroke-width="1.4"/>
<circle cx="330.9" cy="1993.2" r="3.6" fill="#2e4a54" stroke="#0a0a0a" stroke-width="1.4"/>
<circle cx="375.6" cy="2114.2" r="3.6" fill="#417a6f" stroke="#0a0a0a" stroke-width="1.4"/>
<circle cx="386.4" cy="2123.1" r="3.6" fill="#417a6f" stroke="#0a0a0a" stroke-width="1.4"/>
<circle cx="364.8" cy="2124.9" r="3.6" fill="#417a6f" stroke="#0a0a0a" stroke-width="1.4"/>
<circle cx="409.4" cy="2112.3" r="3.6" fill="#50a68b" stroke="#0a0a0a" stroke-width="1.4"/>
<circle cx="420.2" cy="2112.3" r="3.6" fill="#50a68b" stroke="#0a0a0a" stroke-width="1.4"/>
<circle cx="431.6" cy="2111.7" r="3.6" fill="#50a68b" stroke="#0a0a0a" stroke-width="1.4"/>
<circle cx="465.5" cy="2108.6" r="3.6" fill="#d9c06a" stroke="#0a0a0a" stroke-width="1.4"/>
<circle cx="476.6" cy="2111.7" r="3.6" fill="#d9c06a" stroke="#0a0a0a" stroke-width="1.4"/>
<circle cx="454.7" cy="2113.2" r="3.6" fill="#d9c06a" stroke="#0a0a0a" stroke-width="1.4"/>
<circle cx="510.1" cy="2088.6" r="3.6" fill="#da6b51" stroke="#0a0a0a" stroke-width="1.4"/>
<circle cx="521.2" cy="2094.2" r="3.6" fill="#da6b51" stroke="#0a0a0a" stroke-width="1.4"/>
<circle cx="499.3" cy="2094.8" r="3.6" fill="#da6b51" stroke="#0a0a0a" stroke-width="1.4"/>
<line x1="300.8" y1="1901" x2="300.8" y2="2140.9" stroke="#0a0a0a" stroke-width="2.6"/>
<line x1="289.8" y1="2140.9" x2="541.2" y2="2140.9" stroke="#0a0a0a" stroke-width="2.6"/>
<line x1="289.8" y1="1902.3" x2="300.8" y2="1902.3" stroke="#0a0a0a" stroke-width="2.6"/>
<text x="288.3" y="1908.7" text-anchor="end" font-weight="bold" font-size="18">1.5</text>
<line x1="289.8" y1="1982.4" x2="300.8" y2="1982.4" stroke="#0a0a0a" stroke-width="2.6"/>
<text x="288.3" y="1988.8" text-anchor="end" font-weight="bold" font-size="18">1.0</text>
<line x1="289.8" y1="2061.8" x2="300.8" y2="2061.8" stroke="#0a0a0a" stroke-width="2.6"/>
<text x="288.3" y="2068.2" text-anchor="end" font-weight="bold" font-size="18">0.5</text>
<line x1="289.8" y1="2140.9" x2="300.8" y2="2140.9" stroke="#0a0a0a" stroke-width="2.6"/>
<text x="288.3" y="2147.3" text-anchor="end" font-weight="bold" font-size="18">0.0</text>
<line x1="330.9" y1="2140.9" x2="330.9" y2="2152.2" stroke="#0a0a0a" stroke-width="2.6"/>
<text x="330.9" y="2170.2" text-anchor="middle" font-weight="bold" font-size="17.6">-</text>
<line x1="375.6" y1="2140.9" x2="375.6" y2="2152.2" stroke="#0a0a0a" stroke-width="2.6"/>
<text x="375.6" y="2170.2" text-anchor="middle" font-weight="bold" font-size="17.6">3</text>
<line x1="420.2" y1="2140.9" x2="420.2" y2="2152.2" stroke="#0a0a0a" stroke-width="2.6"/>
<text x="420.2" y="2170.2" text-anchor="middle" font-weight="bold" font-size="17.6">6</text>
<line x1="465.5" y1="2140.9" x2="465.5" y2="2152.2" stroke="#0a0a0a" stroke-width="2.6"/>
<text x="465.5" y="2170.2" text-anchor="middle" font-weight="bold" font-size="17.6">12</text>
<line x1="510.1" y1="2140.9" x2="510.1" y2="2152.2" stroke="#0a0a0a" stroke-width="2.6"/>
<text x="510.1" y="2170.2" text-anchor="middle" font-weight="bold" font-size="17.6">24H</text>
<text x="220.7" y="2171.7" font-weight="bold" font-size="17.3" textLength="77.3" lengthAdjust="spacingAndGlyphs">LPS+ATP</text>
<line x1="334.9" y1="1942.4" x2="375.6" y2="1942.4" stroke="#0a0a0a" stroke-width="2.6"/>
<text class="st" x="326.1 341.4 356.7 372" y="1936.6" font-size="24">****</text>
<line x1="469.5" y1="2074.1" x2="509.5" y2="2074.1" stroke="#0a0a0a" stroke-width="2.6"/>
<text class="st" x="483.3" y="2068.3" font-size="24">*</text>
<text class="yl" transform="translate(252.4,2021.2) rotate(-90)" text-anchor="middle" font-size="17.6" textLength="219.2" lengthAdjust="spacingAndGlyphs" xml:space="preserve">Relative <tspan font-style="italic">Angptl2</tspan> mRNA level</text>
<rect x="717.6" y="2126.2" width="29.6" height="15.4" fill="#2e4a54" stroke="#101414" stroke-width="1.2"/>
<rect x="763.8" y="2016.3" width="29.6" height="125.3" fill="#417a6f" stroke="#101414" stroke-width="1.2"/>
<rect x="810" y="1975.6" width="29.6" height="166" fill="#50a68b" stroke="#101414" stroke-width="1.2"/>
<rect x="856.2" y="2063.4" width="29.5" height="78.2" fill="#d9c06a" stroke="#101414" stroke-width="1.2"/>
<rect x="902.4" y="2111.1" width="29.5" height="30.5" fill="#da6b51" stroke="#101414" stroke-width="1.2"/>
<line x1="732.4" y1="2124" x2="732.4" y2="2127" stroke="#0a0a0a" stroke-width="1.5"/>
<line x1="725" y1="2124" x2="739.8" y2="2124" stroke="#0a0a0a" stroke-width="1.5"/>
<line x1="725" y1="2127" x2="739.8" y2="2127" stroke="#0a0a0a" stroke-width="1.5"/>
<line x1="778.6" y1="1997.2" x2="778.6" y2="2034.7" stroke="#0a0a0a" stroke-width="1.5"/>
<line x1="771.2" y1="1997.2" x2="786" y2="1997.2" stroke="#0a0a0a" stroke-width="1.5"/>
<line x1="771.2" y1="2034.7" x2="786" y2="2034.7" stroke="#0a0a0a" stroke-width="1.5"/>
<line x1="824.8" y1="1965.5" x2="824.8" y2="1984.9" stroke="#0a0a0a" stroke-width="1.5"/>
<line x1="817.4" y1="1965.5" x2="832.2" y2="1965.5" stroke="#0a0a0a" stroke-width="1.5"/>
<line x1="817.4" y1="1984.9" x2="832.2" y2="1984.9" stroke="#0a0a0a" stroke-width="1.5"/>
<line x1="871" y1="2050.1" x2="871" y2="2077.2" stroke="#0a0a0a" stroke-width="1.5"/>
<line x1="863.6" y1="2050.1" x2="878.4" y2="2050.1" stroke="#0a0a0a" stroke-width="1.5"/>
<line x1="863.6" y1="2077.2" x2="878.4" y2="2077.2" stroke="#0a0a0a" stroke-width="1.5"/>
<line x1="917.1" y1="2105.5" x2="917.1" y2="2113.2" stroke="#0a0a0a" stroke-width="1.5"/>
<line x1="909.7" y1="2105.5" x2="924.5" y2="2105.5" stroke="#0a0a0a" stroke-width="1.5"/>
<line x1="909.7" y1="2113.2" x2="924.5" y2="2113.2" stroke="#0a0a0a" stroke-width="1.5"/>
<circle cx="721" cy="2127.1" r="3.6" fill="#2e4a54" stroke="#0a0a0a" stroke-width="1.4"/>
<circle cx="732.4" cy="2124.9" r="3.6" fill="#2e4a54" stroke="#0a0a0a" stroke-width="1.4"/>
<circle cx="743.8" cy="2124.9" r="3.6" fill="#2e4a54" stroke="#0a0a0a" stroke-width="1.4"/>
<circle cx="778.6" cy="1996.9" r="3.6" fill="#417a6f" stroke="#0a0a0a" stroke-width="1.4"/>
<circle cx="778.6" cy="2016.3" r="3.6" fill="#417a6f" stroke="#0a0a0a" stroke-width="1.4"/>
<circle cx="778.6" cy="2034.7" r="3.6" fill="#417a6f" stroke="#0a0a0a" stroke-width="1.4"/>
<circle cx="824.8" cy="1965.5" r="3.6" fill="#50a68b" stroke="#0a0a0a" stroke-width="1.4"/>
<circle cx="824.8" cy="1975.3" r="3.6" fill="#50a68b" stroke="#0a0a0a" stroke-width="1.4"/>
<circle cx="824.8" cy="1984.9" r="3.6" fill="#50a68b" stroke="#0a0a0a" stroke-width="1.4"/>
<circle cx="871" cy="2047" r="3.6" fill="#d9c06a" stroke="#0a0a0a" stroke-width="1.4"/>
<circle cx="882.4" cy="2068.6" r="3.6" fill="#d9c06a" stroke="#0a0a0a" stroke-width="1.4"/>
<circle cx="859.6" cy="2073.2" r="3.6" fill="#d9c06a" stroke="#0a0a0a" stroke-width="1.4"/>
<circle cx="917.1" cy="2104.9" r="3.6" fill="#da6b51" stroke="#0a0a0a" stroke-width="1.4"/>
<circle cx="928.5" cy="2109.2" r="3.6" fill="#da6b51" stroke="#0a0a0a" stroke-width="1.4"/>
<circle cx="905.8" cy="2111.7" r="3.6" fill="#da6b51" stroke="#0a0a0a" stroke-width="1.4"/>
<line x1="702.2" y1="1894.9" x2="702.2" y2="2141.6" stroke="#0a0a0a" stroke-width="2.6"/>
<line x1="691.2" y1="2141.6" x2="948.5" y2="2141.6" stroke="#0a0a0a" stroke-width="2.6"/>
<line x1="691.2" y1="1896.2" x2="702.2" y2="1896.2" stroke="#0a0a0a" stroke-width="2.6"/>
<text x="689.7" y="1902.6" text-anchor="end" font-weight="bold" font-size="18">15</text>
<line x1="691.2" y1="1977.8" x2="702.2" y2="1977.8" stroke="#0a0a0a" stroke-width="2.6"/>
<text x="689.7" y="1984.2" text-anchor="end" font-weight="bold" font-size="18">10</text>
<line x1="691.2" y1="2060.3" x2="702.2" y2="2060.3" stroke="#0a0a0a" stroke-width="2.6"/>
<text x="689.7" y="2066.7" text-anchor="end" font-weight="bold" font-size="18">5</text>
<line x1="691.2" y1="2141.6" x2="702.2" y2="2141.6" stroke="#0a0a0a" stroke-width="2.6"/>
<text x="689.7" y="2148" text-anchor="end" font-weight="bold" font-size="18">0</text>
<line x1="732.4" y1="2141.6" x2="732.4" y2="2152.9" stroke="#0a0a0a" stroke-width="2.6"/>
<text x="732.4" y="2170.8" text-anchor="middle" font-weight="bold" font-size="17.6">-</text>
<line x1="778.6" y1="2141.6" x2="778.6" y2="2152.9" stroke="#0a0a0a" stroke-width="2.6"/>
<text x="778.6" y="2170.8" text-anchor="middle" font-weight="bold" font-size="17.6">3</text>
<line x1="824.8" y1="2141.6" x2="824.8" y2="2152.9" stroke="#0a0a0a" stroke-width="2.6"/>
<text x="824.8" y="2170.8" text-anchor="middle" font-weight="bold" font-size="17.6">6</text>
<line x1="871" y1="2141.6" x2="871" y2="2152.9" stroke="#0a0a0a" stroke-width="2.6"/>
<text x="871" y="2170.8" text-anchor="middle" font-weight="bold" font-size="17.6">12</text>
<line x1="917.1" y1="2141.6" x2="917.1" y2="2152.9" stroke="#0a0a0a" stroke-width="2.6"/>
<text x="917.1" y="2170.8" text-anchor="middle" font-weight="bold" font-size="17.6">24H</text>
<text x="621.6" y="2171.7" font-weight="bold" font-size="17.3" textLength="76.3" lengthAdjust="spacingAndGlyphs">LPS+ATP</text>
<line x1="734" y1="1983.3" x2="781.1" y2="1983.3" stroke="#0a0a0a" stroke-width="2.6"/>
<text class="st" x="728.4 743.7 759 774.3" y="1977.5" font-size="24">****</text>
<text class="yl" transform="translate(657,2018.6) rotate(-90)" text-anchor="middle" font-size="17.6" textLength="204.7" lengthAdjust="spacingAndGlyphs" xml:space="preserve">Relative <tspan font-style="italic">Nlrp3</tspan> mRNA level</text>
<rect x="134.2" y="2373.3" width="29.6" height="95.6" fill="#2e4a54" stroke="#101414" stroke-width="1.2"/>
<rect x="179.3" y="2274.1" width="29.6" height="194.8" fill="#417a6f" stroke="#101414" stroke-width="1.2"/>
<rect x="224.6" y="2265.7" width="29.1" height="203.2" fill="#50a68b" stroke="#101414" stroke-width="1.2"/>
<rect x="269.7" y="2282.2" width="29.1" height="186.7" fill="#d9c06a" stroke="#101414" stroke-width="1.2"/>
<rect x="314.8" y="2326.6" width="28.8" height="142.3" fill="#da6b51" stroke="#101414" stroke-width="1.2"/>
<line x1="149" y1="2365.2" x2="149" y2="2381.2" stroke="#0a0a0a" stroke-width="1.5"/>
<line x1="141.6" y1="2365.2" x2="156.4" y2="2365.2" stroke="#0a0a0a" stroke-width="1.5"/>
<line x1="141.6" y1="2381.2" x2="156.4" y2="2381.2" stroke="#0a0a0a" stroke-width="1.5"/>
<line x1="194.1" y1="2266.2" x2="194.1" y2="2281.5" stroke="#0a0a0a" stroke-width="1.5"/>
<line x1="186.7" y1="2266.2" x2="201.5" y2="2266.2" stroke="#0a0a0a" stroke-width="1.5"/>
<line x1="186.7" y1="2281.5" x2="201.5" y2="2281.5" stroke="#0a0a0a" stroke-width="1.5"/>
<line x1="238.9" y1="2264.2" x2="238.9" y2="2266.7" stroke="#0a0a0a" stroke-width="1.5"/>
<line x1="231.5" y1="2264.2" x2="246.3" y2="2264.2" stroke="#0a0a0a" stroke-width="1.5"/>
<line x1="231.5" y1="2266.7" x2="246.3" y2="2266.7" stroke="#0a0a0a" stroke-width="1.5"/>
<line x1="284.5" y1="2263" x2="284.5" y2="2300.7" stroke="#0a0a0a" stroke-width="1.5"/>
<line x1="277.1" y1="2263" x2="291.9" y2="2263" stroke="#0a0a0a" stroke-width="1.5"/>
<line x1="277.1" y1="2300.7" x2="291.9" y2="2300.7" stroke="#0a0a0a" stroke-width="1.5"/>
<line x1="329.3" y1="2316.7" x2="329.3" y2="2334.7" stroke="#0a0a0a" stroke-width="1.5"/>
<line x1="321.9" y1="2316.7" x2="336.7" y2="2316.7" stroke="#0a0a0a" stroke-width="1.5"/>
<line x1="321.9" y1="2334.7" x2="336.7" y2="2334.7" stroke="#0a0a0a" stroke-width="1.5"/>
<circle cx="160.6" cy="2367.9" r="3.6" fill="#2e4a54" stroke="#0a0a0a" stroke-width="1.4"/>
<circle cx="149" cy="2370.9" r="3.6" fill="#2e4a54" stroke="#0a0a0a" stroke-width="1.4"/>
<circle cx="149" cy="2382.5" r="3.6" fill="#2e4a54" stroke="#0a0a0a" stroke-width="1.4"/>
<circle cx="194.1" cy="2265.5" r="3.6" fill="#417a6f" stroke="#0a0a0a" stroke-width="1.4"/>
<circle cx="205.2" cy="2275.3" r="3.6" fill="#417a6f" stroke="#0a0a0a" stroke-width="1.4"/>
<circle cx="183" cy="2280.5" r="3.6" fill="#417a6f" stroke="#0a0a0a" stroke-width="1.4"/>
<circle cx="227.8" cy="2267.4" r="3.6" fill="#50a68b" stroke="#0a0a0a" stroke-width="1.4"/>
<circle cx="238.9" cy="2264.5" r="3.6" fill="#50a68b" stroke="#0a0a0a" stroke-width="1.4"/>
<circle cx="250.5" cy="2265.5" r="3.6" fill="#50a68b" stroke="#0a0a0a" stroke-width="1.4"/>
<circle cx="272.9" cy="2272.9" r="3.6" fill="#d9c06a" stroke="#0a0a0a" stroke-width="1.4"/>
<circle cx="295.6" cy="2269.4" r="3.6" fill="#d9c06a" stroke="#0a0a0a" stroke-width="1.4"/>
<circle cx="284.5" cy="2303.6" r="3.6" fill="#d9c06a" stroke="#0a0a0a" stroke-width="1.4"/>
<circle cx="340.6" cy="2317.9" r="3.6" fill="#da6b51" stroke="#0a0a0a" stroke-width="1.4"/>
<circle cx="329.3" cy="2328.5" r="3.6" fill="#da6b51" stroke="#0a0a0a" stroke-width="1.4"/>
<circle cx="329.3" cy="2335.9" r="3.6" fill="#da6b51" stroke="#0a0a0a" stroke-width="1.4"/>
<line x1="119.5" y1="2228" x2="119.5" y2="2468.9" stroke="#0a0a0a" stroke-width="2.6"/>
<line x1="108.5" y1="2468.9" x2="360.3" y2="2468.9" stroke="#0a0a0a" stroke-width="2.6"/>
<line x1="108.5" y1="2229.3" x2="119.5" y2="2229.3" stroke="#0a0a0a" stroke-width="2.6"/>
<text x="107" y="2235.7" text-anchor="end" font-weight="bold" font-size="18">2.5</text>
<line x1="108.5" y1="2277.8" x2="119.5" y2="2277.8" stroke="#0a0a0a" stroke-width="2.6"/>
<text x="107" y="2284.2" text-anchor="end" font-weight="bold" font-size="18">2.0</text>
<line x1="108.5" y1="2325.3" x2="119.5" y2="2325.3" stroke="#0a0a0a" stroke-width="2.6"/>
<text x="107" y="2331.7" text-anchor="end" font-weight="bold" font-size="18">1.5</text>
<line x1="108.5" y1="2373.3" x2="119.5" y2="2373.3" stroke="#0a0a0a" stroke-width="2.6"/>
<text x="107" y="2379.7" text-anchor="end" font-weight="bold" font-size="18">1.0</text>
<line x1="108.5" y1="2421.4" x2="119.5" y2="2421.4" stroke="#0a0a0a" stroke-width="2.6"/>
<text x="107" y="2427.8" text-anchor="end" font-weight="bold" font-size="18">0.5</text>
<line x1="108.5" y1="2468.9" x2="119.5" y2="2468.9" stroke="#0a0a0a" stroke-width="2.6"/>
<text x="107" y="2475.3" text-anchor="end" font-weight="bold" font-size="18">0.0</text>
<line x1="149" y1="2468.9" x2="149" y2="2480.2" stroke="#0a0a0a" stroke-width="2.6"/>
<text x="149" y="2498.5" text-anchor="middle" font-weight="bold" font-size="17.6">-</text>
<line x1="194.1" y1="2468.9" x2="194.1" y2="2480.2" stroke="#0a0a0a" stroke-width="2.6"/>
<text x="194.1" y="2498.5" text-anchor="middle" font-weight="bold" font-size="17.6">3</text>
<line x1="238.9" y1="2468.9" x2="238.9" y2="2480.2" stroke="#0a0a0a" stroke-width="2.6"/>
<text x="238.9" y="2498.5" text-anchor="middle" font-weight="bold" font-size="17.6">6</text>
<line x1="284.5" y1="2468.9" x2="284.5" y2="2480.2" stroke="#0a0a0a" stroke-width="2.6"/>
<text x="284.5" y="2498.5" text-anchor="middle" font-weight="bold" font-size="17.6">12</text>
<line x1="329.3" y1="2468.9" x2="329.3" y2="2480.2" stroke="#0a0a0a" stroke-width="2.6"/>
<text x="329.3" y="2498.5" text-anchor="middle" font-weight="bold" font-size="17.6">24H</text>
<text x="38.2" y="2501.4" font-weight="bold" font-size="17.3" textLength="76.3" lengthAdjust="spacingAndGlyphs">LPS+ATP</text>
<line x1="153.2" y1="2247.2" x2="199" y2="2247.2" stroke="#0a0a0a" stroke-width="2.6"/>
<text class="st" x="147 162.3 177.6 192.9" y="2241.4" font-size="24">****</text>
<text class="yl" transform="translate(70.2,2349.3) rotate(-90)" text-anchor="middle" font-size="17.6" textLength="232.7" lengthAdjust="spacingAndGlyphs" xml:space="preserve">Relative <tspan font-style="italic">Caspase1</tspan> mRNA level</text>
<rect x="512.6" y="2425.6" width="27.8" height="45" fill="#2e4a54" stroke="#101414" stroke-width="1.2"/>
<rect x="555.2" y="2298.2" width="27.6" height="172.4" fill="#417a6f" stroke="#101414" stroke-width="1.2"/>
<rect x="597.5" y="2264.2" width="27.4" height="206.4" fill="#50a68b" stroke="#101414" stroke-width="1.2"/>
<rect x="640.1" y="2364.2" width="27.6" height="106.4" fill="#d9c06a" stroke="#101414" stroke-width="1.2"/>
<rect x="682.5" y="2387.4" width="27.4" height="83.2" fill="#da6b51" stroke="#101414" stroke-width="1.2"/>
<line x1="526.4" y1="2422.1" x2="526.4" y2="2428.8" stroke="#0a0a0a" stroke-width="1.5"/>
<line x1="519" y1="2422.1" x2="533.8" y2="2422.1" stroke="#0a0a0a" stroke-width="1.5"/>
<line x1="519" y1="2428.8" x2="533.8" y2="2428.8" stroke="#0a0a0a" stroke-width="1.5"/>
<line x1="569" y1="2264.5" x2="569" y2="2331" stroke="#0a0a0a" stroke-width="1.5"/>
<line x1="561.6" y1="2264.5" x2="576.4" y2="2264.5" stroke="#0a0a0a" stroke-width="1.5"/>
<line x1="561.6" y1="2331" x2="576.4" y2="2331" stroke="#0a0a0a" stroke-width="1.5"/>
<line x1="611.3" y1="2261.3" x2="611.3" y2="2265" stroke="#0a0a0a" stroke-width="1.5"/>
<line x1="603.9" y1="2261.3" x2="618.7" y2="2261.3" stroke="#0a0a0a" stroke-width="1.5"/>
<line x1="603.9" y1="2265" x2="618.7" y2="2265" stroke="#0a0a0a" stroke-width="1.5"/>
<line x1="653.9" y1="2352.4" x2="653.9" y2="2374.6" stroke="#0a0a0a" stroke-width="1.5"/>
<line x1="646.5" y1="2352.4" x2="661.3" y2="2352.4" stroke="#0a0a0a" stroke-width="1.5"/>
<line x1="646.5" y1="2374.6" x2="661.3" y2="2374.6" stroke="#0a0a0a" stroke-width="1.5"/>
<line x1="696.3" y1="2380.7" x2="696.3" y2="2392.3" stroke="#0a0a0a" stroke-width="1.5"/>
<line x1="688.9" y1="2380.7" x2="703.7" y2="2380.7" stroke="#0a0a0a" stroke-width="1.5"/>
<line x1="688.9" y1="2392.3" x2="703.7" y2="2392.3" stroke="#0a0a0a" stroke-width="1.5"/>
<circle cx="526.4" cy="2421.4" r="3.6" fill="#2e4a54" stroke="#0a0a0a" stroke-width="1.4"/>
<circle cx="515.8" cy="2427.5" r="3.6" fill="#2e4a54" stroke="#0a0a0a" stroke-width="1.4"/>
<circle cx="537.4" cy="2427.5" r="3.6" fill="#2e4a54" stroke="#0a0a0a" stroke-width="1.4"/>
<circle cx="569" cy="2259.3" r="3.6" fill="#417a6f" stroke="#0a0a0a" stroke-width="1.4"/>
<circle cx="558.4" cy="2317.2" r="3.6" fill="#417a6f" stroke="#0a0a0a" stroke-width="1.4"/>
<circle cx="580" cy="2316.7" r="3.6" fill="#417a6f" stroke="#0a0a0a" stroke-width="1.4"/>
<circle cx="611.3" cy="2260" r="3.6" fill="#50a68b" stroke="#0a0a0a" stroke-width="1.4"/>
<circle cx="600.7" cy="2265" r="3.6" fill="#50a68b" stroke="#0a0a0a" stroke-width="1.4"/>
<circle cx="622.2" cy="2263.3" r="3.6" fill="#50a68b" stroke="#0a0a0a" stroke-width="1.4"/>
<circle cx="653.9" cy="2350.7" r="3.6" fill="#d9c06a" stroke="#0a0a0a" stroke-width="1.4"/>
<circle cx="643.3" cy="2370.9" r="3.6" fill="#d9c06a" stroke="#0a0a0a" stroke-width="1.4"/>
<circle cx="664.8" cy="2369.2" r="3.6" fill="#d9c06a" stroke="#0a0a0a" stroke-width="1.4"/>
<circle cx="696.3" cy="2379.5" r="3.6" fill="#da6b51" stroke="#0a0a0a" stroke-width="1.4"/>
<circle cx="707.1" cy="2388.1" r="3.6" fill="#da6b51" stroke="#0a0a0a" stroke-width="1.4"/>
<circle cx="685.7" cy="2391.8" r="3.6" fill="#da6b51" stroke="#0a0a0a" stroke-width="1.4"/>
<line x1="499" y1="2243.5" x2="499" y2="2470.6" stroke="#0a0a0a" stroke-width="2"/>
<line x1="489" y1="2470.6" x2="725.6" y2="2470.6" stroke="#0a0a0a" stroke-width="2"/>
<line x1="489" y1="2244.5" x2="499" y2="2244.5" stroke="#0a0a0a" stroke-width="2"/>
<text x="487.5" y="2250.9" text-anchor="end" font-weight="bold" font-size="18">1.8</text>
<line x1="489" y1="2290.1" x2="499" y2="2290.1" stroke="#0a0a0a" stroke-width="2"/>
<text x="487.5" y="2296.5" text-anchor="end" font-weight="bold" font-size="18">1.6</text>
<line x1="489" y1="2335.2" x2="499" y2="2335.2" stroke="#0a0a0a" stroke-width="2"/>
<text x="487.5" y="2341.6" text-anchor="end" font-weight="bold" font-size="18">1.4</text>
<line x1="489" y1="2380.2" x2="499" y2="2380.2" stroke="#0a0a0a" stroke-width="2"/>
<text x="487.5" y="2386.6" text-anchor="end" font-weight="bold" font-size="18">1.2</text>
<line x1="489" y1="2425.6" x2="499" y2="2425.6" stroke="#0a0a0a" stroke-width="2"/>
<text x="487.5" y="2432" text-anchor="end" font-weight="bold" font-size="18">1.0</text>
<line x1="489" y1="2470.6" x2="499" y2="2470.6" stroke="#0a0a0a" stroke-width="2"/>
<text x="487.5" y="2477" text-anchor="end" font-weight="bold" font-size="18">0.8</text>
<line x1="526.4" y1="2470.6" x2="526.4" y2="2480.6" stroke="#0a0a0a" stroke-width="2"/>
<text x="526.4" y="2497.7" text-anchor="middle" font-weight="bold" font-size="17.6">-</text>
<line x1="569" y1="2470.6" x2="569" y2="2480.6" stroke="#0a0a0a" stroke-width="2"/>
<text x="569" y="2497.7" text-anchor="middle" font-weight="bold" font-size="17.6">3</text>
<line x1="611.3" y1="2470.6" x2="611.3" y2="2480.6" stroke="#0a0a0a" stroke-width="2"/>
<text x="611.3" y="2497.7" text-anchor="middle" font-weight="bold" font-size="17.6">6</text>
<line x1="653.9" y1="2470.6" x2="653.9" y2="2480.6" stroke="#0a0a0a" stroke-width="2"/>
<text x="653.9" y="2497.7" text-anchor="middle" font-weight="bold" font-size="17.6">12</text>
<line x1="696.3" y1="2470.6" x2="696.3" y2="2480.6" stroke="#0a0a0a" stroke-width="2"/>
<text x="696.3" y="2497.7" text-anchor="middle" font-weight="bold" font-size="17.6">24H</text>
<text x="419.7" y="2501.4" font-weight="bold" font-size="17.3" textLength="76.3" lengthAdjust="spacingAndGlyphs">LPS+ATP</text>
<line x1="525.1" y1="2248.5" x2="568" y2="2248.5" stroke="#0a0a0a" stroke-width="2"/>
<text class="st" x="517.4 532.7 548 563.3" y="2242.7" font-size="24">****</text>
<text class="yl" transform="translate(451.7,2357.3) rotate(-90)" text-anchor="middle" font-size="17.6" textLength="201" lengthAdjust="spacingAndGlyphs" xml:space="preserve">Relative <tspan font-style="italic">Gsdmd</tspan> mRNA level</text>
<rect x="877" y="2450.4" width="29.1" height="22" fill="#2e4a54" stroke="#101414" stroke-width="1.2"/>
<rect x="922.1" y="2305.1" width="29.3" height="82.3" fill="#417a6f"/>
<rect x="922.1" y="2405.4" width="29.3" height="67" fill="#417a6f"/>
<path d="M922.1,2387.4V2305.1H951.4V2387.4M922.1,2405.4V2472.4M951.4,2405.4V2472.4" fill="none" stroke="#101414" stroke-width="1.2"/>
<rect x="967.6" y="2267.9" width="28.9" height="119.5" fill="#50a68b"/>
<rect x="967.6" y="2405.4" width="28.9" height="67" fill="#50a68b"/>
<path d="M967.6,2387.4V2267.9H996.5V2387.4M967.6,2405.4V2472.4M996.5,2405.4V2472.4" fill="none" stroke="#101414" stroke-width="1.2"/>
<rect x="1012.5" y="2340.6" width="29" height="46.8" fill="#d9c06a"/>
<rect x="1012.5" y="2405.4" width="29" height="67" fill="#d9c06a"/>
<path d="M1012.5,2387.4V2340.6H1041.5V2387.4M1012.5,2405.4V2472.4M1041.5,2405.4V2472.4" fill="none" stroke="#101414" stroke-width="1.2"/>
<rect x="1057.5" y="2382.5" width="29.6" height="4.9" fill="#da6b51"/>
<rect x="1057.5" y="2405.4" width="29.6" height="67" fill="#da6b51"/>
<path d="M1057.5,2387.4V2382.5H1087.1V2387.4M1057.5,2405.4V2472.4M1087.1,2405.4V2472.4" fill="none" stroke="#101414" stroke-width="1.2"/>
<line x1="891.3" y1="2446" x2="891.3" y2="2453.4" stroke="#0a0a0a" stroke-width="1.5"/>
<line x1="883.9" y1="2446" x2="898.7" y2="2446" stroke="#0a0a0a" stroke-width="1.5"/>
<line x1="883.9" y1="2453.4" x2="898.7" y2="2453.4" stroke="#0a0a0a" stroke-width="1.5"/>
<line x1="936.6" y1="2303" x2="936.6" y2="2306" stroke="#0a0a0a" stroke-width="1.5"/>
<line x1="929.2" y1="2303" x2="944" y2="2303" stroke="#0a0a0a" stroke-width="1.5"/>
<line x1="929.2" y1="2306" x2="944" y2="2306" stroke="#0a0a0a" stroke-width="1.5"/>
<line x1="981.9" y1="2257.6" x2="981.9" y2="2277.3" stroke="#0a0a0a" stroke-width="1.5"/>
<line x1="974.5" y1="2257.6" x2="989.3" y2="2257.6" stroke="#0a0a0a" stroke-width="1.5"/>
<line x1="974.5" y1="2277.3" x2="989.3" y2="2277.3" stroke="#0a0a0a" stroke-width="1.5"/>
<line x1="1027.2" y1="2335.2" x2="1027.2" y2="2343.8" stroke="#0a0a0a" stroke-width="1.5"/>
<line x1="1019.8" y1="2335.2" x2="1034.6" y2="2335.2" stroke="#0a0a0a" stroke-width="1.5"/>
<line x1="1019.8" y1="2343.8" x2="1034.6" y2="2343.8" stroke="#0a0a0a" stroke-width="1.5"/>
<line x1="1072.3" y1="2380.5" x2="1072.3" y2="2383" stroke="#0a0a0a" stroke-width="1.5"/>
<line x1="1064.9" y1="2380.5" x2="1079.7" y2="2380.5" stroke="#0a0a0a" stroke-width="1.5"/>
<line x1="1064.9" y1="2383" x2="1079.7" y2="2383" stroke="#0a0a0a" stroke-width="1.5"/>
<circle cx="891.3" cy="2447.2" r="3.6" fill="#2e4a54" stroke="#0a0a0a" stroke-width="1.4"/>
<circle cx="902.9" cy="2449.2" r="3.6" fill="#2e4a54" stroke="#0a0a0a" stroke-width="1.4"/>
<circle cx="880.2" cy="2452.9" r="3.6" fill="#2e4a54" stroke="#0a0a0a" stroke-width="1.4"/>
<circle cx="925.5" cy="2305.6" r="3.6" fill="#417a6f" stroke="#0a0a0a" stroke-width="1.4"/>
<circle cx="936.6" cy="2302.4" r="3.6" fill="#417a6f" stroke="#0a0a0a" stroke-width="1.4"/>
<circle cx="947.9" cy="2303.9" r="3.6" fill="#417a6f" stroke="#0a0a0a" stroke-width="1.4"/>
<circle cx="971.1" cy="2260.8" r="3.6" fill="#50a68b" stroke="#0a0a0a" stroke-width="1.4"/>
<circle cx="993.5" cy="2263.3" r="3.6" fill="#50a68b" stroke="#0a0a0a" stroke-width="1.4"/>
<circle cx="981.9" cy="2278" r="3.6" fill="#50a68b" stroke="#0a0a0a" stroke-width="1.4"/>
<circle cx="1027.2" cy="2335.9" r="3.6" fill="#d9c06a" stroke="#0a0a0a" stroke-width="1.4"/>
<circle cx="1038.3" cy="2338.4" r="3.6" fill="#d9c06a" stroke="#0a0a0a" stroke-width="1.4"/>
<circle cx="1016.2" cy="2344.5" r="3.6" fill="#d9c06a" stroke="#0a0a0a" stroke-width="1.4"/>
<circle cx="1061" cy="2382" r="3.6" fill="#da6b51" stroke="#0a0a0a" stroke-width="1.4"/>
<circle cx="1072.3" cy="2380.7" r="3.6" fill="#da6b51" stroke="#0a0a0a" stroke-width="1.4"/>
<circle cx="1083.9" cy="2381.5" r="3.6" fill="#da6b51" stroke="#0a0a0a" stroke-width="1.4"/>
<line x1="861.5" y1="2229.7" x2="861.5" y2="2387.4" stroke="#0a0a0a" stroke-width="2"/>
<line x1="856.5" y1="2387.4" x2="866.5" y2="2387.4" stroke="#0a0a0a" stroke-width="2"/>
<line x1="861.5" y1="2405.4" x2="861.5" y2="2472.4" stroke="#0a0a0a" stroke-width="2"/>
<line x1="856.5" y1="2405.4" x2="866.5" y2="2405.4" stroke="#0a0a0a" stroke-width="2"/>
<line x1="851.5" y1="2472.4" x2="1103.6" y2="2472.4" stroke="#0a0a0a" stroke-width="2"/>
<line x1="851.5" y1="2230.7" x2="861.5" y2="2230.7" stroke="#0a0a0a" stroke-width="2"/>
<text x="850" y="2237.4" text-anchor="end" font-weight="bold" font-size="18.8">4000</text>
<line x1="851.5" y1="2270.1" x2="861.5" y2="2270.1" stroke="#0a0a0a" stroke-width="2"/>
<text x="850" y="2276.8" text-anchor="end" font-weight="bold" font-size="18.8">3000</text>
<line x1="851.5" y1="2309.1" x2="861.5" y2="2309.1" stroke="#0a0a0a" stroke-width="2"/>
<text x="850" y="2315.8" text-anchor="end" font-weight="bold" font-size="18.8">2000</text>
<line x1="851.5" y1="2348.7" x2="861.5" y2="2348.7" stroke="#0a0a0a" stroke-width="2"/>
<text x="850" y="2355.4" text-anchor="end" font-weight="bold" font-size="18.8">1000</text>
<line x1="851.5" y1="2405.4" x2="861.5" y2="2405.4" stroke="#0a0a0a" stroke-width="2"/>
<text x="850" y="2412.1" text-anchor="end" font-weight="bold" font-size="18.8">3</text>
<line x1="851.5" y1="2427.5" x2="861.5" y2="2427.5" stroke="#0a0a0a" stroke-width="2"/>
<text x="850" y="2434.2" text-anchor="end" font-weight="bold" font-size="18.8">2</text>
<line x1="851.5" y1="2450.2" x2="861.5" y2="2450.2" stroke="#0a0a0a" stroke-width="2"/>
<text x="850" y="2456.9" text-anchor="end" font-weight="bold" font-size="18.8">1</text>
<line x1="851.5" y1="2472.4" x2="861.5" y2="2472.4" stroke="#0a0a0a" stroke-width="2"/>
<text x="850" y="2479.1" text-anchor="end" font-weight="bold" font-size="18.8">0</text>
<line x1="891.3" y1="2472.4" x2="891.3" y2="2482.4" stroke="#0a0a0a" stroke-width="2"/>
<text x="891.3" y="2500.2" text-anchor="middle" font-weight="bold" font-size="17.6">-</text>
<line x1="936.6" y1="2472.4" x2="936.6" y2="2482.4" stroke="#0a0a0a" stroke-width="2"/>
<text x="936.6" y="2500.2" text-anchor="middle" font-weight="bold" font-size="17.6">3</text>
<line x1="981.9" y1="2472.4" x2="981.9" y2="2482.4" stroke="#0a0a0a" stroke-width="2"/>
<text x="981.9" y="2500.2" text-anchor="middle" font-weight="bold" font-size="17.6">6</text>
<line x1="1027.2" y1="2472.4" x2="1027.2" y2="2482.4" stroke="#0a0a0a" stroke-width="2"/>
<text x="1027.2" y="2500.2" text-anchor="middle" font-weight="bold" font-size="17.6">12</text>
<line x1="1072.3" y1="2472.4" x2="1072.3" y2="2482.4" stroke="#0a0a0a" stroke-width="2"/>
<text x="1072.3" y="2500.2" text-anchor="middle" font-weight="bold" font-size="17.6">24H</text>
<text x="782.9" y="2501.4" font-weight="bold" font-size="17.3" textLength="76.9" lengthAdjust="spacingAndGlyphs">LPS+ATP</text>
<line x1="891.3" y1="2268.7" x2="937.3" y2="2268.7" stroke="#0a0a0a" stroke-width="2"/>
<text class="st" x="885.2 900.5 915.8 931.1" y="2262.9" font-size="24">****</text>
<text class="yl" transform="translate(797,2351) rotate(-90)" text-anchor="middle" font-size="17.6" textLength="194" lengthAdjust="spacingAndGlyphs" xml:space="preserve">Relative <tspan font-style="italic" font-weight="bold">Il-1β</tspan> mRNA level</text>
<defs>
<filter id="b1" x="-30%" y="-80%" width="160%" height="260%"><feGaussianBlur stdDeviation="1.6"/></filter>
<filter id="b2" x="-30%" y="-80%" width="160%" height="260%"><feGaussianBlur stdDeviation="2.4"/></filter>
<filter id="b3" x="-40%" y="-80%" width="180%" height="260%"><feGaussianBlur stdDeviation="4.5"/></filter>
</defs>
<text x="1234.1" y="720.9" font-weight="bold" font-size="23.5" textLength="105.7" lengthAdjust="spacingAndGlyphs">LPS+ATP</text>
<text x="1388.5" y="720.5" text-anchor="middle" font-weight="bold" font-size="23">-</text>
<text x="1441.5" y="720.5" text-anchor="middle" font-weight="bold" font-size="23">3</text>
<text x="1492.7" y="720.5" text-anchor="middle" font-weight="bold" font-size="23">6</text>
<text x="1549.4" y="720.5" text-anchor="middle" font-weight="bold" font-size="23">12</text>
<text x="1606.8" y="720.5" text-anchor="middle" font-weight="bold" font-size="23">24h</text>
<text x="1339.8" y="779.5" text-anchor="end" font-weight="bold" font-size="23">ANGPTL2</text>
<text x="1661" y="785" font-weight="bold" font-size="23">57kDa</text>
<text x="1339.8" y="831.8" text-anchor="end" font-weight="bold" font-size="23">NLRP3</text>
<text x="1661" y="838" font-weight="bold" font-size="23">110kDa</text>
<text x="1339.8" y="885.5" text-anchor="end" font-weight="bold" font-size="23">Pro-Caspase-1</text>
<text x="1661" y="890.3" font-weight="bold" font-size="23">45kDa</text>
<text x="1339.8" y="940.4" text-anchor="end" font-weight="bold" font-size="23">Cle-Caspase-1</text>
<text x="1661" y="942.9" font-weight="bold" font-size="23">35kDa</text>
<text x="1339.8" y="995.2" text-anchor="end" font-weight="bold" font-size="23">GSDMD-FL</text>
<text x="1661" y="995.2" font-weight="bold" font-size="23">53kDa</text>
<text x="1339.8" y="1048.3" text-anchor="end" font-weight="bold" font-size="23">GSDMD-NT</text>
<text x="1661" y="1048.2" font-weight="bold" font-size="23">30kDa</text>
<text x="1339.8" y="1095.8" text-anchor="end" font-weight="bold" font-size="23">IL-1β</text>
<text x="1661" y="1100.6" font-weight="bold" font-size="23">31kDa</text>
<text x="1339.8" y="1145.2" text-anchor="end" font-weight="bold" font-size="23">β-actin</text>
<text x="1661" y="1153.6" font-weight="bold" font-size="23">42kDa</text>
<defs><clipPath id="cp1"><rect x="1350.2" y="747.9" width="295.6" height="44.9"/></clipPath><linearGradient id="bg1" x1="0" y1="0" x2="0" y2="1"><stop offset="0" stop-color="#c6c6c6"/><stop offset="1" stop-color="#e6e6e6"/></linearGradient></defs>
<rect x="1350.2" y="747.9" width="295.6" height="44.9" fill="url(#bg1)"/>
<g clip-path="url(#cp1)">
<rect x="1367.2" y="752" width="41" height="24" rx="5" fill="#6e6e6e" opacity="0.85" filter="url(#b2)"/>
<rect x="1366.7" y="768.8" width="42" height="7.5" rx="3.8" fill="#2e2e2e" opacity="0.85" filter="url(#b1)"/>
<rect x="1423.3" y="752" width="41" height="24" rx="5" fill="#6e6e6e" opacity="0.85" filter="url(#b2)"/>
<rect x="1422.8" y="768.8" width="42" height="7.5" rx="3.8" fill="#2e2e2e" opacity="0.85" filter="url(#b1)"/>
<rect x="1478.1" y="752" width="41" height="24" rx="5" fill="#6e6e6e" opacity="0.85" filter="url(#b2)"/>
<rect x="1477.6" y="768.8" width="42" height="7.5" rx="3.8" fill="#2e2e2e" opacity="0.85" filter="url(#b1)"/>
<rect x="1531.7" y="752" width="41" height="24" rx="5" fill="#6e6e6e" opacity="0.85" filter="url(#b2)"/>
<rect x="1531.2" y="768.8" width="42" height="7.5" rx="3.8" fill="#2e2e2e" opacity="0.85" filter="url(#b1)"/>
<rect x="1585.9" y="752" width="41" height="24" rx="5" fill="#6e6e6e" opacity="0.85" filter="url(#b2)"/>
<rect x="1585.4" y="766.2" width="42" height="7.5" rx="3.8" fill="#2e2e2e" opacity="0.85" filter="url(#b1)"/>
</g>
<rect x="1351.7" y="749.4" width="292.6" height="41.9" fill="none" stroke="#0a0a0a" stroke-width="3" stroke-linejoin="round"/>
<defs><clipPath id="cp2"><rect x="1350.2" y="801.7" width="295.6" height="44.7"/></clipPath><linearGradient id="bg2" x1="0" y1="0" x2="0" y2="1"><stop offset="0" stop-color="#b8b8b8"/><stop offset="1" stop-color="#c6c6c6"/></linearGradient></defs>
<rect x="1350.2" y="801.7" width="295.6" height="44.7" fill="url(#bg2)"/>
<g clip-path="url(#cp2)">
<rect x="1373.5" y="815.6" width="30" height="4" rx="2" fill="#8a8a8a" opacity="0.8" filter="url(#b1)"/>
<rect x="1371" y="829.1" width="35" height="7" rx="3.5" fill="#050505" opacity="1" filter="url(#b1)"/>
<rect x="1429" y="816" width="30" height="4" rx="2" fill="#8a8a8a" opacity="0.8" filter="url(#b1)"/>
<rect x="1425" y="829.5" width="38" height="7" rx="3.5" fill="#050505" opacity="1" filter="url(#b1)"/>
<rect x="1484" y="814" width="30" height="4" rx="2" fill="#8a8a8a" opacity="0.8" filter="url(#b1)"/>
<rect x="1480" y="826.8" width="38" height="8.5" rx="4.2" fill="#050505" opacity="1" filter="url(#b1)"/>
<rect x="1539.5" y="808.5" width="30" height="4" rx="2" fill="#8a8a8a" opacity="0.8" filter="url(#b1)" transform="rotate(-11 1554.5 810.5)"/>
<rect x="1534.5" y="820.8" width="40" height="9.5" rx="4.8" fill="#050505" opacity="1" filter="url(#b1)" transform="rotate(-11 1554.5 825.5)"/>
<rect x="1594" y="809.5" width="30" height="4" rx="2" fill="#8a8a8a" opacity="0.8" filter="url(#b1)"/>
<rect x="1592" y="823" width="34" height="7" rx="3.5" fill="#050505" opacity="1" filter="url(#b1)"/>
</g>
<rect x="1351.7" y="803.2" width="292.6" height="41.7" fill="none" stroke="#0a0a0a" stroke-width="3" stroke-linejoin="round"/>
<defs><clipPath id="cp3"><rect x="1350.2" y="855.3" width="295.6" height="44.3"/></clipPath><linearGradient id="bg3" x1="0" y1="0" x2="0" y2="1"><stop offset="0" stop-color="#c4c4c4"/><stop offset="1" stop-color="#cbcbcb"/></linearGradient></defs>
<rect x="1350.2" y="855.3" width="295.6" height="44.3" fill="url(#bg3)"/>
<g clip-path="url(#cp3)">
<rect x="1369.7" y="866" width="36" height="6" rx="3" fill="#8e8e8e" opacity="0.9" filter="url(#b2)"/>
<rect x="1425.8" y="869.5" width="36" height="6" rx="3" fill="#8e8e8e" opacity="0.9" filter="url(#b2)"/>
<rect x="1480.6" y="871" width="36" height="6" rx="3" fill="#8e8e8e" opacity="0.9" filter="url(#b2)"/>
<rect x="1534.2" y="870.5" width="36" height="6" rx="3" fill="#8e8e8e" opacity="0.9" filter="url(#b2)"/>
<rect x="1588.4" y="868" width="36" height="6" rx="3" fill="#8e8e8e" opacity="0.9" filter="url(#b2)"/>
</g>
<rect x="1351.7" y="856.8" width="292.6" height="41.3" fill="none" stroke="#0a0a0a" stroke-width="3" stroke-linejoin="round"/>
<defs><clipPath id="cp4"><rect x="1350.2" y="908.5" width="295.6" height="44.7"/></clipPath><linearGradient id="bg4" x1="0" y1="0" x2="0" y2="1"><stop offset="0" stop-color="#cecece"/><stop offset="1" stop-color="#c9c9c9"/></linearGradient></defs>
<rect x="1350.2" y="908.5" width="295.6" height="44.7" fill="url(#bg4)"/>
<g clip-path="url(#cp4)">
<rect x="1369" y="925.2" width="32" height="4.5" rx="2.2" fill="#555" opacity="0.9" filter="url(#b1)"/>
<rect x="1425" y="927.2" width="34" height="5.5" rx="2.8" fill="#1c1c1c" opacity="0.95" filter="url(#b1)"/>
<rect x="1480.5" y="927.8" width="35" height="6.5" rx="3.2" fill="#050505" opacity="1" filter="url(#b1)"/>
<rect x="1534.5" y="927.5" width="37" height="8" rx="4" fill="#000" opacity="1" filter="url(#b1)"/>
<rect x="1591.5" y="927" width="31" height="7" rx="3.5" fill="#000" opacity="1" filter="url(#b1)"/>
</g>
<rect x="1351.7" y="910" width="292.6" height="41.7" fill="none" stroke="#0a0a0a" stroke-width="3" stroke-linejoin="round"/>
<defs><clipPath id="cp5"><rect x="1350.2" y="962" width="295.6" height="44.9"/></clipPath><linearGradient id="bg5" x1="0" y1="0" x2="0" y2="1"><stop offset="0" stop-color="#cccccc"/><stop offset="1" stop-color="#c8c8c8"/></linearGradient></defs>
<rect x="1350.2" y="962" width="295.6" height="44.9" fill="url(#bg5)"/>
<g clip-path="url(#cp5)">
<rect x="1426.8" y="974" width="34" height="4" rx="2" fill="#aaaaaa" opacity="0.8" filter="url(#b2)"/>
<rect x="1428.8" y="994" width="30" height="4" rx="2" fill="#b0b0b0" opacity="0.7" filter="url(#b2)"/>
<rect x="1481.6" y="974" width="34" height="4" rx="2" fill="#aaaaaa" opacity="0.8" filter="url(#b2)"/>
<rect x="1483.6" y="994" width="30" height="4" rx="2" fill="#b0b0b0" opacity="0.7" filter="url(#b2)"/>
<rect x="1535.2" y="974" width="34" height="4" rx="2" fill="#aaaaaa" opacity="0.8" filter="url(#b2)"/>
<rect x="1537.2" y="994" width="30" height="4" rx="2" fill="#b0b0b0" opacity="0.7" filter="url(#b2)"/>
<rect x="1589.4" y="974" width="34" height="4" rx="2" fill="#aaaaaa" opacity="0.8" filter="url(#b2)"/>
<rect x="1591.4" y="994" width="30" height="4" rx="2" fill="#b0b0b0" opacity="0.7" filter="url(#b2)"/>
</g>
<rect x="1351.7" y="963.5" width="292.6" height="41.9" fill="none" stroke="#0a0a0a" stroke-width="3" stroke-linejoin="round"/>
<defs><clipPath id="cp6"><rect x="1350.2" y="1015.8" width="295.6" height="44.3"/></clipPath><linearGradient id="bg6" x1="0" y1="0" x2="0" y2="1"><stop offset="0" stop-color="#cdcdcd"/><stop offset="1" stop-color="#cfcfcf"/></linearGradient></defs>
<rect x="1350.2" y="1015.8" width="295.6" height="44.3" fill="url(#bg6)"/>
<g clip-path="url(#cp6)">
<rect x="1369" y="1041" width="33" height="18" rx="5" fill="#a8a8a8" opacity="0.7" filter="url(#b2)"/>
<rect x="1369" y="1034.5" width="33" height="7" rx="3.5" fill="#8d8d8d" opacity="0.9" filter="url(#b1)"/>
<rect x="1423" y="1037.5" width="30" height="18" rx="5" fill="#a8a8a8" opacity="0.7" filter="url(#b2)"/>
<rect x="1423" y="1031.5" width="30" height="6" rx="3" fill="#5a5a5a" opacity="0.9" filter="url(#b1)"/>
<rect x="1480" y="1040.5" width="36" height="18" rx="5" fill="#a8a8a8" opacity="0.7" filter="url(#b2)"/>
<rect x="1480" y="1034" width="36" height="7" rx="3.5" fill="#1e1e1e" opacity="1" filter="url(#b1)"/>
<rect x="1536" y="1041" width="37" height="18" rx="9" fill="#a8a8a8" opacity="0.7" filter="url(#b2)"/>
<rect x="1536" y="1034.2" width="37" height="7.5" rx="3.8" fill="#0c0c0c" opacity="1" filter="url(#b1)"/>
<rect x="1592" y="1041" width="36" height="18" rx="5" fill="#a8a8a8" opacity="0.7" filter="url(#b2)"/>
<rect x="1592" y="1034.5" width="36" height="7" rx="3.5" fill="#141414" opacity="1" filter="url(#b1)"/>
<rect x="1540" y="1050" width="7" height="5" rx="5" fill="#111" opacity="0.9" filter="url(#b1)"/>
<rect x="1563" y="1049.5" width="8" height="5" rx="5" fill="#222" opacity="0.8" filter="url(#b1)"/>
<rect x="1453" y="1034" width="4" height="22" rx="5" fill="#777" opacity="0.7" filter="url(#b1)"/>
</g>
<rect x="1351.7" y="1017.3" width="292.6" height="41.3" fill="none" stroke="#0a0a0a" stroke-width="3" stroke-linejoin="round"/>
<defs><clipPath id="cp7"><rect x="1350.2" y="1066.4" width="295.6" height="44.3"/></clipPath><linearGradient id="bg7" x1="0" y1="0" x2="0" y2="1"><stop offset="0" stop-color="#dadada"/><stop offset="1" stop-color="#dedede"/></linearGradient></defs>
<rect x="1350.2" y="1066.4" width="295.6" height="44.3" fill="url(#bg7)"/>
<g clip-path="url(#cp7)">
<rect x="1372" y="1071" width="34" height="34" rx="5" fill="#9a9a9a" opacity="0.75" filter="url(#b3)"/>
<rect x="1374" y="1082" width="30" height="8" rx="4" fill="#111" opacity="1" filter="url(#b1)"/>
<rect x="1423.5" y="1072.5" width="42" height="34" rx="5" fill="#9a9a9a" opacity="0.75" filter="url(#b3)"/>
<rect x="1425.5" y="1079" width="38" height="17" rx="8.5" fill="#000" opacity="1" filter="url(#b1)"/>
<rect x="1478" y="1072" width="41" height="34" rx="5" fill="#9a9a9a" opacity="0.75" filter="url(#b3)"/>
<rect x="1480" y="1079.5" width="37" height="15" rx="7.5" fill="#000" opacity="1" filter="url(#b1)"/>
<rect x="1530" y="1071.5" width="43" height="34" rx="5" fill="#9a9a9a" opacity="0.75" filter="url(#b3)"/>
<rect x="1532" y="1081" width="39" height="11" rx="5.5" fill="#050505" opacity="1" filter="url(#b1)"/>
<rect x="1590.5" y="1073" width="33" height="34" rx="5" fill="#9a9a9a" opacity="0.75" filter="url(#b3)"/>
<rect x="1592.5" y="1082" width="29" height="12" rx="6" fill="#080808" opacity="1" filter="url(#b1)"/>
</g>
<rect x="1351.7" y="1067.9" width="292.6" height="41.3" fill="none" stroke="#0a0a0a" stroke-width="3" stroke-linejoin="round"/>
<defs><clipPath id="cp8"><rect x="1350.2" y="1117.6" width="295.6" height="45"/></clipPath><linearGradient id="bg8" x1="0" y1="0" x2="0" y2="1"><stop offset="0" stop-color="#e8e8e8"/><stop offset="1" stop-color="#e4e4e4"/></linearGradient></defs>
<rect x="1350.2" y="1117.6" width="295.6" height="45" fill="url(#bg8)"/>
<g clip-path="url(#cp8)">
<rect x="1376.1" y="1140.2" width="41" height="14.5" rx="7.2" fill="#000" opacity="1" filter="url(#b1)"/>
<rect x="1430.5" y="1139.8" width="41" height="14.5" rx="7.2" fill="#000" opacity="1" filter="url(#b1)"/>
<rect x="1484" y="1138.2" width="41" height="14.5" rx="7.2" fill="#000" opacity="1" filter="url(#b1)"/>
<rect x="1537.2" y="1135.8" width="41" height="14.5" rx="7.2" fill="#000" opacity="1" filter="url(#b1)" transform="rotate(-3 1557.7 1143)"/>
<rect x="1589.8" y="1134.2" width="41" height="14.5" rx="7.2" fill="#000" opacity="1" filter="url(#b1)"/>
</g>
<rect x="1351.7" y="1119.1" width="292.6" height="42" fill="none" stroke="#0a0a0a" stroke-width="3" stroke-linejoin="round"/>
<text x="1234.1" y="2000.8" font-weight="bold" font-size="23.5" textLength="105.7" lengthAdjust="spacingAndGlyphs">LPS+ATP</text>
<text x="1383" y="1999.5" text-anchor="middle" font-weight="bold" font-size="23">-</text>
<text x="1440.4" y="1999.5" text-anchor="middle" font-weight="bold" font-size="23">3</text>
<text x="1496.4" y="1999.5" text-anchor="middle" font-weight="bold" font-size="23">6</text>
<text x="1553.1" y="1999.5" text-anchor="middle" font-weight="bold" font-size="23">12</text>
<text x="1614.5" y="1999.5" text-anchor="middle" font-weight="bold" font-size="23">24h</text>
<text x="1339.8" y="2058.6" text-anchor="end" font-weight="bold" font-size="23">ANGPTL2</text>
<text x="1662" y="2057.5" font-weight="bold" font-size="23">57kDa</text>
<text x="1339.8" y="2111.3" text-anchor="end" font-weight="bold" font-size="23">NLRP3</text>
<text x="1662" y="2110.5" font-weight="bold" font-size="23">110kDa</text>
<text x="1339.8" y="2165.4" text-anchor="end" font-weight="bold" font-size="23">Pro-Caspase-1</text>
<text x="1662" y="2163.6" font-weight="bold" font-size="23">45kDa</text>
<text x="1339.8" y="2221" text-anchor="end" font-weight="bold" font-size="23">Cle-Caspase-1</text>
<text x="1662" y="2215.1" font-weight="bold" font-size="23">35kDa</text>
<text x="1339.8" y="2275.5" text-anchor="end" font-weight="bold" font-size="23">GSDMD-FL</text>
<text x="1662" y="2268.1" font-weight="bold" font-size="23">53kDa</text>
<text x="1339.8" y="2328.5" text-anchor="end" font-weight="bold" font-size="23">GSDMD-NT</text>
<text x="1662" y="2321.2" font-weight="bold" font-size="23">30kDa</text>
<text x="1339.8" y="2374.6" text-anchor="end" font-weight="bold" font-size="23">IL-1β</text>
<text x="1662" y="2374.2" font-weight="bold" font-size="23">31kDa</text>
<text x="1339.8" y="2425.4" text-anchor="end" font-weight="bold" font-size="23">β-actin</text>
<text x="1662" y="2426.5" font-weight="bold" font-size="23">42kDa</text>
<defs><clipPath id="cp9"><rect x="1350.8" y="2026.4" width="295.6" height="44.4"/></clipPath><linearGradient id="bg9" x1="0" y1="0" x2="0" y2="1"><stop offset="0" stop-color="#dddddd"/><stop offset="1" stop-color="#e2e2e2"/></linearGradient></defs>
<rect x="1350.8" y="2026.4" width="295.6" height="44.4" fill="url(#bg9)"/>
<g clip-path="url(#cp9)">
<rect x="1371" y="2029" width="38" height="36" rx="5" fill="#4e4e4e" opacity="0.9" filter="url(#b2)"/>
<rect x="1371" y="2045.5" width="30" height="12" rx="6" fill="#1e1e1e" opacity="0.8" filter="url(#b2)"/>
<rect x="1426" y="2029" width="33" height="22" rx="5" fill="#a2a2a2" opacity="0.85" filter="url(#b2)"/>
<rect x="1427.5" y="2042.5" width="30" height="6" rx="3" fill="#808080" opacity="0.8" filter="url(#b2)"/>
<rect x="1482.1" y="2029" width="33" height="22" rx="5" fill="#a2a2a2" opacity="0.85" filter="url(#b2)"/>
<rect x="1483.6" y="2042" width="30" height="6" rx="3" fill="#808080" opacity="0.8" filter="url(#b2)"/>
<rect x="1540.2" y="2029" width="33" height="22" rx="5" fill="#a2a2a2" opacity="0.85" filter="url(#b2)"/>
<rect x="1541.7" y="2041.5" width="30" height="6" rx="3" fill="#808080" opacity="0.8" filter="url(#b2)"/>
<rect x="1597.4" y="2029" width="33" height="22" rx="5" fill="#a2a2a2" opacity="0.85" filter="url(#b2)"/>
<rect x="1598.9" y="2041" width="30" height="6" rx="3" fill="#808080" opacity="0.8" filter="url(#b2)"/>
<rect x="1607" y="2043.5" width="8" height="7" rx="5" fill="#555" opacity="0.8" filter="url(#b1)"/>
</g>
<rect x="1352.3" y="2027.9" width="292.6" height="41.4" fill="none" stroke="#0a0a0a" stroke-width="3" stroke-linejoin="round"/>
<defs><clipPath id="cp10"><rect x="1350.8" y="2079.6" width="295.6" height="44.4"/></clipPath><linearGradient id="bg10" x1="0" y1="0" x2="0" y2="1"><stop offset="0" stop-color="#d2d2d2"/><stop offset="1" stop-color="#d6d6d6"/></linearGradient></defs>
<rect x="1350.8" y="2079.6" width="295.6" height="44.4" fill="url(#bg10)"/>
<g clip-path="url(#cp10)">
<rect x="1367.5" y="2077" width="34" height="50" rx="5" fill="#8c8c8c" opacity="0.5" filter="url(#b2)"/>
<rect x="1370.5" y="2097.5" width="28" height="8" rx="4" fill="#020202" opacity="1" filter="url(#b1)"/>
<rect x="1423" y="2077" width="39" height="50" rx="5" fill="#8c8c8c" opacity="0.5" filter="url(#b2)"/>
<rect x="1426" y="2095.8" width="33" height="9.5" rx="4.8" fill="#020202" opacity="1" filter="url(#b1)"/>
<rect x="1479.5" y="2077" width="39" height="50" rx="5" fill="#8c8c8c" opacity="0.5" filter="url(#b2)"/>
<rect x="1482.5" y="2095.8" width="33" height="10.5" rx="5.2" fill="#020202" opacity="1" filter="url(#b1)"/>
<rect x="1535.5" y="2077" width="43" height="50" rx="5" fill="#8c8c8c" opacity="0.5" filter="url(#b2)"/>
<rect x="1538.5" y="2095.5" width="37" height="12" rx="6" fill="#020202" opacity="1" filter="url(#b1)"/>
<rect x="1594.5" y="2077" width="40" height="50" rx="5" fill="#8c8c8c" opacity="0.5" filter="url(#b2)"/>
<rect x="1597.5" y="2095.8" width="34" height="10.5" rx="5.2" fill="#020202" opacity="1" filter="url(#b1)"/>
</g>
<rect x="1352.3" y="2081.1" width="292.6" height="41.4" fill="none" stroke="#0a0a0a" stroke-width="3" stroke-linejoin="round"/>
<defs><clipPath id="cp11"><rect x="1350.8" y="2132.8" width="295.6" height="44.4"/></clipPath><linearGradient id="bg11" x1="0" y1="0" x2="0" y2="1"><stop offset="0" stop-color="#cfcfcf"/><stop offset="1" stop-color="#cdcdcd"/></linearGradient></defs>
<rect x="1350.8" y="2132.8" width="295.6" height="44.4" fill="url(#bg11)"/>
<g clip-path="url(#cp11)">
<rect x="1367.5" y="2152.5" width="42" height="8" rx="4" fill="#707070" opacity="0.95" filter="url(#b2)"/>
<rect x="1370.5" y="2163.5" width="36" height="4" rx="2" fill="#aaaaaa" opacity="0.7" filter="url(#b2)"/>
<rect x="1422" y="2152.5" width="42" height="8" rx="4" fill="#707070" opacity="0.95" filter="url(#b2)"/>
<rect x="1425" y="2163.5" width="36" height="4" rx="2" fill="#aaaaaa" opacity="0.7" filter="url(#b2)"/>
<rect x="1476.5" y="2150.5" width="42" height="8" rx="4" fill="#707070" opacity="0.95" filter="url(#b2)"/>
<rect x="1479.5" y="2161.5" width="36" height="4" rx="2" fill="#aaaaaa" opacity="0.7" filter="url(#b2)"/>
<rect x="1529.5" y="2148" width="42" height="8" rx="4" fill="#707070" opacity="0.95" filter="url(#b2)"/>
<rect x="1532.5" y="2159" width="36" height="4" rx="2" fill="#aaaaaa" opacity="0.7" filter="url(#b2)"/>
<rect x="1585" y="2146" width="42" height="8" rx="4" fill="#707070" opacity="0.95" filter="url(#b2)"/>
<rect x="1588" y="2157" width="36" height="4" rx="2" fill="#aaaaaa" opacity="0.7" filter="url(#b2)"/>
<rect x="1638" y="2158" width="4" height="4" rx="5" fill="#000" opacity="1" filter="url(#b1)"/>
</g>
<rect x="1352.3" y="2134.3" width="292.6" height="41.4" fill="none" stroke="#0a0a0a" stroke-width="3" stroke-linejoin="round"/>
<defs><clipPath id="cp12"><rect x="1350.8" y="2187" width="295.6" height="44.2"/></clipPath><linearGradient id="bg12" x1="0" y1="0" x2="0" y2="1"><stop offset="0" stop-color="#cbcbcb"/><stop offset="1" stop-color="#cdcdcd"/></linearGradient></defs>
<rect x="1350.8" y="2187" width="295.6" height="44.2" fill="url(#bg12)"/>
<g clip-path="url(#cp12)">
<rect x="1369" y="2198.7" width="34" height="5" rx="2.5" fill="#2a2a2a" opacity="1" filter="url(#b1)"/>
<rect x="1371" y="2214.5" width="30" height="5" rx="2.5" fill="#a8a8a8" opacity="0.7" filter="url(#b1)"/>
<rect x="1426" y="2197.7" width="34" height="7" rx="3.5" fill="#0a0a0a" opacity="1" filter="url(#b1)"/>
<rect x="1428" y="2214.5" width="30" height="5" rx="2.5" fill="#9a9a9a" opacity="0.7" filter="url(#b1)"/>
<rect x="1482" y="2197.7" width="34" height="7" rx="3.5" fill="#0a0a0a" opacity="1" filter="url(#b1)"/>
<rect x="1484" y="2214.5" width="30" height="5" rx="2.5" fill="#a8a8a8" opacity="0.7" filter="url(#b1)"/>
<rect x="1538" y="2196.7" width="40" height="9" rx="4.5" fill="#000" opacity="1" filter="url(#b1)"/>
<rect x="1540" y="2214.5" width="36" height="5" rx="2.5" fill="#3a3a3a" opacity="0.95" filter="url(#b1)"/>
<rect x="1596.5" y="2196.7" width="37" height="9" rx="4.5" fill="#000" opacity="1" filter="url(#b1)"/>
<rect x="1598.5" y="2214.5" width="33" height="5" rx="2.5" fill="#4a4a4a" opacity="0.9" filter="url(#b1)"/>
</g>
<rect x="1352.3" y="2188.5" width="292.6" height="41.2" fill="none" stroke="#0a0a0a" stroke-width="3" stroke-linejoin="round"/>
<defs><clipPath id="cp13"><rect x="1350.8" y="2240.5" width="295.6" height="44.4"/></clipPath><linearGradient id="bg13" x1="0" y1="0" x2="0" y2="1"><stop offset="0" stop-color="#cccccc"/><stop offset="1" stop-color="#cacaca"/></linearGradient></defs>
<rect x="1350.8" y="2240.5" width="295.6" height="44.4" fill="url(#bg13)"/>
<g clip-path="url(#cp13)">
<rect x="1367.5" y="2238" width="32" height="44" rx="5" fill="#b0b0b0" opacity="0.85" filter="url(#b2)"/>
<rect x="1424.5" y="2238" width="32" height="44" rx="5" fill="#8a8a8a" opacity="0.85" filter="url(#b2)"/>
<rect x="1479" y="2238" width="32" height="44" rx="5" fill="#848484" opacity="0.85" filter="url(#b2)"/>
<rect x="1534.5" y="2238" width="34" height="44" rx="5" fill="#7e7e7e" opacity="0.85" filter="url(#b2)"/>
<rect x="1589.5" y="2238" width="32" height="44" rx="5" fill="#848484" opacity="0.85" filter="url(#b2)"/>
</g>
<rect x="1352.3" y="2242" width="292.6" height="41.4" fill="none" stroke="#0a0a0a" stroke-width="3" stroke-linejoin="round"/>
<defs><clipPath id="cp14"><rect x="1350.8" y="2293.7" width="295.6" height="44.3"/></clipPath><linearGradient id="bg14" x1="0" y1="0" x2="0" y2="1"><stop offset="0" stop-color="#d4d4d4"/><stop offset="1" stop-color="#d8d8d8"/></linearGradient></defs>
<rect x="1350.8" y="2293.7" width="295.6" height="44.3" fill="url(#bg14)"/>
<g clip-path="url(#cp14)">
<rect x="1370" y="2298" width="33" height="36" rx="5" fill="#b4b4b4" opacity="0.6" filter="url(#b3)"/>
<rect x="1370" y="2313.2" width="33" height="6.5" rx="3.2" fill="#000" opacity="1" filter="url(#b1)"/>
<rect x="1426" y="2298" width="37" height="36" rx="5" fill="#b4b4b4" opacity="0.6" filter="url(#b3)"/>
<rect x="1426" y="2312" width="37" height="13" rx="6.5" fill="#000" opacity="1" filter="url(#b1)"/>
<rect x="1480.5" y="2298" width="38" height="36" rx="5" fill="#b4b4b4" opacity="0.6" filter="url(#b3)"/>
<rect x="1480.5" y="2312.5" width="38" height="15" rx="7.5" fill="#000" opacity="1" filter="url(#b1)"/>
<rect x="1536.5" y="2298" width="39" height="36" rx="5" fill="#b4b4b4" opacity="0.6" filter="url(#b3)"/>
<rect x="1536.5" y="2312.2" width="39" height="12.5" rx="6.2" fill="#000" opacity="1" filter="url(#b1)"/>
<rect x="1593.5" y="2298" width="35" height="36" rx="5" fill="#b4b4b4" opacity="0.6" filter="url(#b3)"/>
<rect x="1593.5" y="2311.8" width="35" height="11.5" rx="5.8" fill="#000" opacity="1" filter="url(#b1)"/>
</g>
<rect x="1352.3" y="2295.2" width="292.6" height="41.3" fill="none" stroke="#0a0a0a" stroke-width="3" stroke-linejoin="round"/>
<defs><clipPath id="cp15"><rect x="1350.8" y="2344.4" width="295.6" height="44.6"/></clipPath><linearGradient id="bg15" x1="0" y1="0" x2="0" y2="1"><stop offset="0" stop-color="#cecece"/><stop offset="1" stop-color="#d2d2d2"/></linearGradient></defs>
<rect x="1350.8" y="2344.4" width="295.6" height="44.6" fill="url(#bg15)"/>
<g clip-path="url(#cp15)">
<rect x="1371.5" y="2353" width="30" height="30" rx="5" fill="#b8b8b8" opacity="0.8" filter="url(#b3)"/>
<rect x="1425.5" y="2345" width="36" height="44" rx="5" fill="#8a8a8a" opacity="0.7" filter="url(#b2)"/>
<rect x="1429.5" y="2371" width="28" height="8" rx="4" fill="#1c1c1c" opacity="1" filter="url(#b2)"/>
<rect x="1483.5" y="2345" width="36" height="44" rx="5" fill="#8a8a8a" opacity="0.85" filter="url(#b2)"/>
<rect x="1486.5" y="2363" width="30" height="13" rx="6.5" fill="#050505" opacity="1" filter="url(#b2)"/>
<rect x="1539" y="2345" width="36" height="44" rx="5" fill="#8a8a8a" opacity="0.9" filter="url(#b2)"/>
<rect x="1542" y="2364" width="30" height="11" rx="5.5" fill="#080808" opacity="1" filter="url(#b2)"/>
<rect x="1593" y="2345" width="36" height="44" rx="5" fill="#8a8a8a" opacity="0.9" filter="url(#b2)"/>
<rect x="1596" y="2362.5" width="30" height="12" rx="6" fill="#080808" opacity="1" filter="url(#b2)"/>
</g>
<rect x="1352.3" y="2345.9" width="292.6" height="41.6" fill="none" stroke="#0a0a0a" stroke-width="3" stroke-linejoin="round"/>
<defs><clipPath id="cp16"><rect x="1350.8" y="2396.6" width="295.6" height="44.4"/></clipPath><linearGradient id="bg16" x1="0" y1="0" x2="0" y2="1"><stop offset="0" stop-color="#e4e4e4"/><stop offset="1" stop-color="#e0e0e0"/></linearGradient></defs>
<rect x="1350.8" y="2396.6" width="295.6" height="44.4" fill="url(#bg16)"/>
<g clip-path="url(#cp16)">
<rect x="1373" y="2416" width="37" height="10" rx="5" fill="#000" opacity="1" filter="url(#b1)"/>
<rect x="1425" y="2416.5" width="37" height="10" rx="5" fill="#000" opacity="1" filter="url(#b1)"/>
<rect x="1478" y="2416.5" width="36" height="9" rx="4.5" fill="#000" opacity="1" filter="url(#b1)"/>
<rect x="1530.5" y="2415.2" width="38" height="9.5" rx="4.8" fill="#000" opacity="1" filter="url(#b1)"/>
<rect x="1585.5" y="2412.8" width="37" height="10.5" rx="5.2" fill="#000" opacity="1" filter="url(#b1)"/>
<rect x="1538.5" y="2420.8" width="5" height="3.5" rx="5" fill="#eee" opacity="0.9" filter="url(#b1)"/>
</g>
<rect x="1352.3" y="2398.1" width="292.6" height="41.4" fill="none" stroke="#0a0a0a" stroke-width="3" stroke-linejoin="round"/>
</svg>
</body></html>
